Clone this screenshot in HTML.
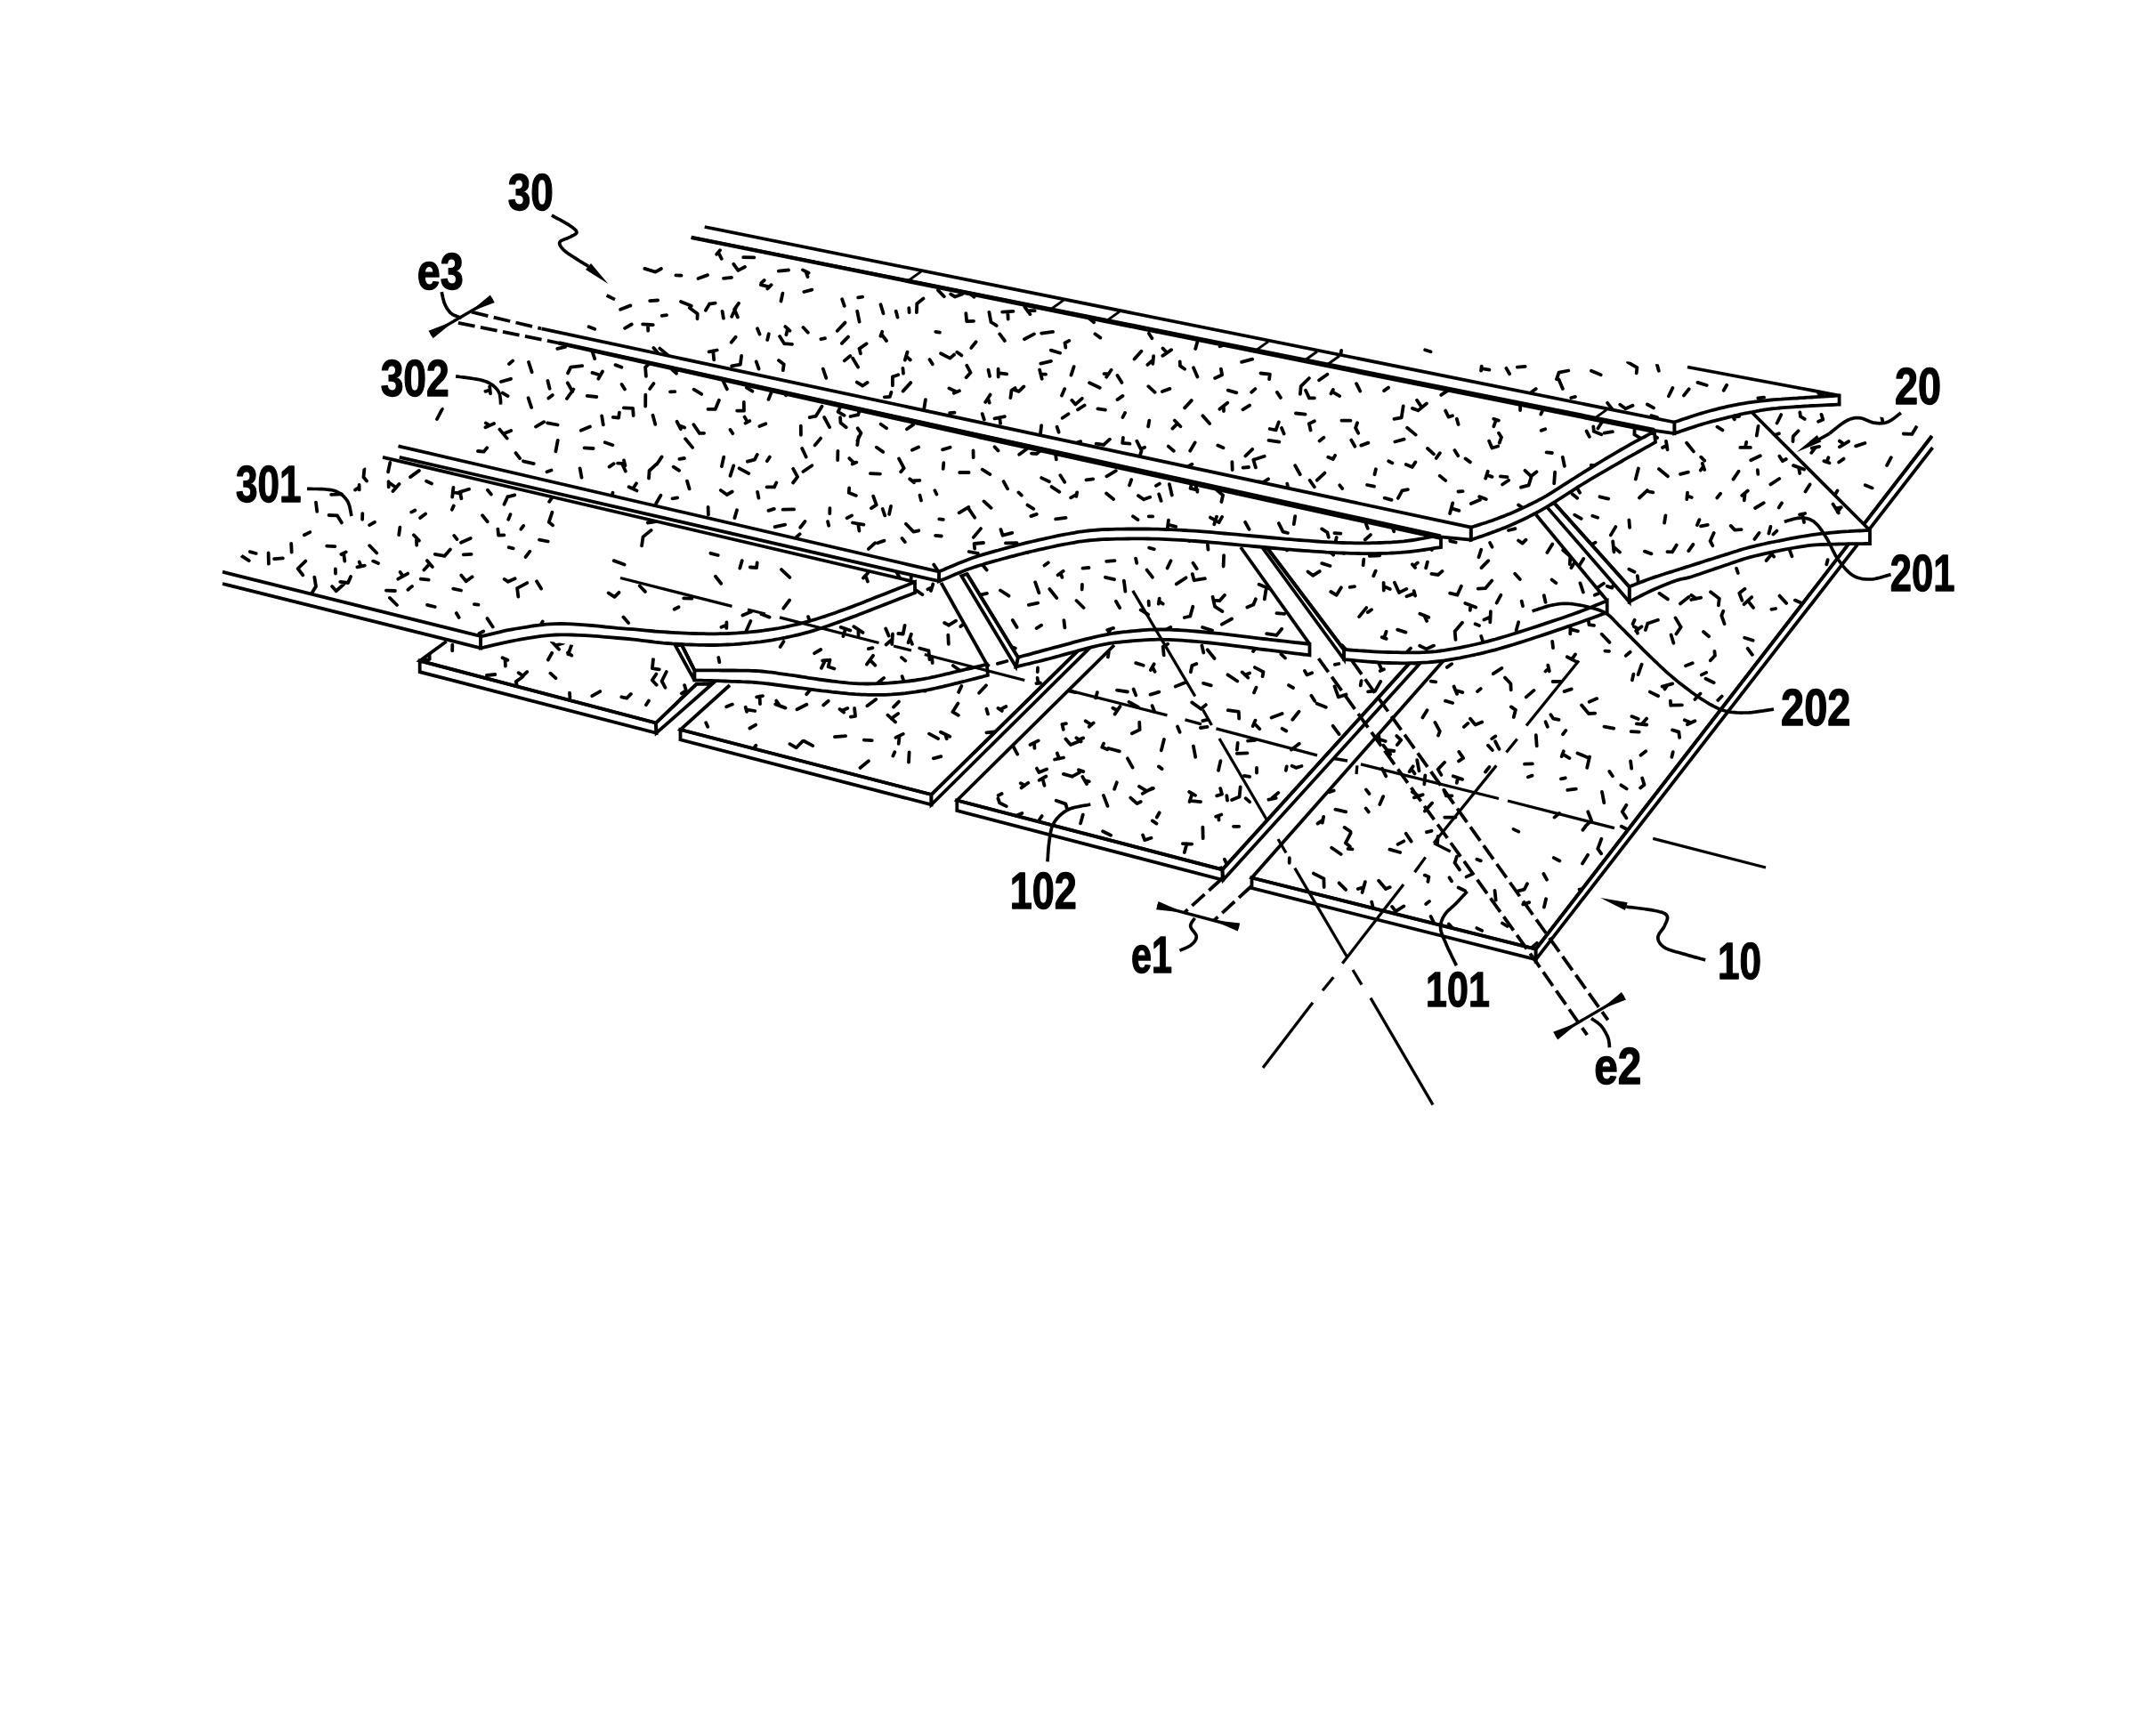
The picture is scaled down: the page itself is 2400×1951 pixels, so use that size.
<!DOCTYPE html>
<html><head><meta charset="utf-8"><title>Fig</title>
<style>
html,body{margin:0;padding:0;background:#fff;overflow:hidden;}
svg{display:block;}
text{font-family:"Liberation Sans",sans-serif;font-weight:bold;fill:#000;}
</style></head><body>
<svg width="2400" height="1951" viewBox="0 0 2400 1951">
<defs><clipPath id="c1"><path d="M1406.5 986.5 L1725.7 1066.7 L2170.7 490.0 L2150.0 476.0 L2060.0 458.0 L1969.0 462.0 L1640.0 722.0Z"/></clipPath><clipPath id="c2"><path d="M1075.3 899.5 L1373.5 977.3 L1584.0 745.0 L1600.0 727.0 L1270.0 707.0 L1252.0 725.0Z"/></clipPath><clipPath id="c3"><path d="M764.5 820.0 L1046.5 893.0 L1212.5 730.0 L1230.0 712.0 L840.0 752.0 L820.0 770.0Z"/></clipPath><clipPath id="c4"><path d="M471.7 742.7 L737.0 812.5 L782.5 768.8 L800.0 750.0 L520.0 705.0 L501.7 720.7Z"/></clipPath><clipPath id="c5"><path d="M766.2 725.2 L780.3 753.3 L782.4 753.3 L785.0 753.3 L788.1 753.3 L791.6 753.3 L795.3 753.4 L799.3 753.4 L803.3 753.4 L807.3 753.4 L811.3 753.5 L815.0 753.5 L818.6 753.5 L822.3 753.5 L826.0 753.5 L829.8 753.6 L833.5 753.6 L837.3 753.6 L841.1 753.7 L844.9 753.8 L848.6 754.0 L852.4 754.2 L856.1 754.5 L859.9 754.9 L863.6 755.3 L867.4 755.7 L871.1 756.2 L874.8 756.8 L878.6 757.3 L882.3 757.8 L886.1 758.4 L889.8 758.9 L893.5 759.4 L897.3 760.0 L901.0 760.6 L904.8 761.2 L908.5 761.8 L912.3 762.3 L916.1 762.9 L919.8 763.5 L923.6 764.0 L927.3 764.5 L931.0 765.0 L934.8 765.5 L938.5 765.9 L942.3 766.4 L946.0 766.8 L949.7 767.2 L953.5 767.6 L957.2 767.9 L961.0 768.1 L964.7 768.3 L968.4 768.4 L972.2 768.5 L975.9 768.5 L979.7 768.4 L983.5 768.3 L987.2 768.2 L991.0 768.0 L994.7 767.8 L998.5 767.6 L1002.2 767.3 L1005.9 767.0 L1009.7 766.7 L1013.4 766.3 L1017.2 765.9 L1020.9 765.5 L1024.6 765.0 L1028.4 764.5 L1032.1 763.9 L1035.9 763.3 L1039.6 762.7 L1043.4 762.0 L1047.2 761.2 L1051.0 760.4 L1054.8 759.5 L1058.6 758.6 L1062.4 757.7 L1066.2 756.8 L1069.9 755.9 L1073.5 755.0 L1077.0 754.2 L1080.6 753.4 L1084.2 752.5 L1088.0 751.6 L1091.7 750.8 L1095.3 749.9 L1098.7 749.1 L1101.8 748.4 L1104.6 747.7 L1107.0 747.1 L1108.9 746.7 L1057.5 655.0 L1040.0 630.0 L740.0 700.0Z"/></clipPath><clipPath id="c6"><path d="M1086.5 645.0 L1143.8 738.8 L1145.9 738.2 L1148.4 737.5 L1151.4 736.7 L1154.8 735.8 L1158.5 734.8 L1162.5 733.7 L1166.7 732.6 L1171.0 731.4 L1175.5 730.2 L1180.0 729.0 L1184.8 727.7 L1189.9 726.3 L1195.5 724.8 L1201.2 723.3 L1207.0 721.7 L1212.8 720.2 L1218.6 718.7 L1224.1 717.3 L1229.2 716.1 L1234.0 715.0 L1238.3 714.1 L1242.3 713.3 L1246.0 712.6 L1249.6 712.0 L1252.9 711.5 L1256.2 711.0 L1259.5 710.6 L1262.9 710.2 L1266.4 709.9 L1270.0 709.5 L1273.7 709.1 L1277.4 708.8 L1281.1 708.5 L1284.8 708.2 L1288.6 707.9 L1292.4 707.7 L1296.3 707.6 L1300.4 707.5 L1304.6 707.5 L1309.0 707.5 L1313.6 707.6 L1318.3 707.8 L1323.1 708.0 L1328.1 708.3 L1333.2 708.7 L1338.4 709.1 L1343.7 709.5 L1349.0 710.0 L1354.5 710.5 L1360.0 711.0 L1365.7 711.6 L1371.6 712.2 L1377.6 712.9 L1383.8 713.6 L1390.0 714.4 L1396.2 715.1 L1402.3 715.9 L1408.4 716.6 L1414.3 717.3 L1420.0 718.0 L1425.7 718.7 L1431.7 719.3 L1437.7 720.0 L1443.7 720.7 L1449.5 721.3 L1455.0 722.0 L1460.1 722.5 L1464.6 723.0 L1468.5 723.5 L1471.5 723.8 L1394.0 615.0 L1380.0 595.0 L1070.0 620.0Z"/></clipPath><clipPath id="c7"><path d="M1424.0 616.0 L1510.0 730.0 L1513.0 730.2 L1516.8 730.5 L1521.4 730.8 L1526.4 731.2 L1531.9 731.5 L1537.7 731.9 L1543.5 732.3 L1549.3 732.6 L1554.8 732.8 L1560.0 733.0 L1565.0 733.1 L1569.9 733.2 L1574.9 733.3 L1579.9 733.4 L1584.8 733.4 L1589.7 733.4 L1594.6 733.3 L1599.5 733.1 L1604.3 732.8 L1609.0 732.5 L1613.7 732.1 L1618.2 731.5 L1622.8 730.9 L1627.2 730.2 L1631.7 729.5 L1636.1 728.7 L1640.6 727.8 L1645.0 726.9 L1649.5 726.0 L1654.0 725.0 L1658.5 724.0 L1662.8 723.0 L1667.0 721.9 L1671.3 720.8 L1675.6 719.7 L1680.0 718.5 L1684.6 717.1 L1689.4 715.7 L1694.5 714.2 L1700.0 712.5 L1706.0 710.6 L1712.7 708.5 L1719.7 706.2 L1727.1 703.9 L1734.5 701.4 L1741.9 698.9 L1749.1 696.5 L1756.0 694.2 L1762.3 692.0 L1768.0 690.0 L1773.2 688.1 L1778.1 686.3 L1782.7 684.5 L1787.1 682.7 L1791.1 681.1 L1794.8 679.6 L1798.1 678.2 L1801.1 676.9 L1803.6 675.9 L1805.7 675.0 L1725.7 578.3 L1700.0 550.0 L1400.0 590.0Z"/></clipPath><clipPath id="c8"><path d="M1746.3 565.2 L1830.7 659.4 L1832.1 658.8 L1833.9 658.1 L1836.1 657.3 L1838.5 656.3 L1841.1 655.3 L1843.8 654.2 L1846.7 653.1 L1849.5 652.0 L1852.3 651.0 L1855.0 650.0 L1857.7 649.1 L1860.5 648.1 L1863.5 647.2 L1866.4 646.2 L1869.4 645.3 L1872.4 644.3 L1875.3 643.4 L1878.0 642.6 L1880.6 641.8 L1883.0 641.0 L1885.1 640.3 L1886.9 639.8 L1888.5 639.3 L1889.9 638.8 L1891.3 638.4 L1892.7 637.9 L1894.2 637.4 L1896.0 636.9 L1898.0 636.3 L1900.4 635.5 L1903.2 634.6 L1906.2 633.6 L1909.5 632.6 L1912.9 631.5 L1916.5 630.3 L1920.2 629.1 L1924.0 628.0 L1927.7 626.8 L1931.4 625.6 L1935.0 624.5 L1938.5 623.4 L1941.8 622.4 L1945.1 621.3 L1948.3 620.2 L1951.7 619.2 L1955.1 618.1 L1958.7 617.0 L1962.5 616.0 L1966.6 614.9 L1971.0 613.8 L1975.9 612.7 L1981.2 611.5 L1986.9 610.2 L1992.8 609.0 L1998.9 607.8 L2004.9 606.6 L2010.9 605.4 L2016.6 604.3 L2022.0 603.4 L2027.0 602.5 L2031.5 601.8 L2035.8 601.1 L2039.8 600.6 L2043.6 600.1 L2047.2 599.7 L2050.8 599.3 L2054.3 599.0 L2057.8 598.6 L2061.4 598.3 L2065.0 598.0 L2068.8 597.7 L2072.9 597.4 L2077.1 597.2 L2081.3 596.9 L2085.4 596.7 L2089.3 596.5 L2092.9 596.4 L2096.1 596.2 L2098.9 596.1 L2101.0 596.0 L1969.0 464.0 L1850.0 480.0Z"/></clipPath><clipPath id="c9"><path d="M250.0 642.7 L540.0 715.5 L542.3 714.9 L545.3 714.2 L548.7 713.4 L552.6 712.4 L556.9 711.3 L561.4 710.3 L566.0 709.2 L570.7 708.2 L575.4 707.3 L580.0 706.5 L584.5 705.8 L589.0 705.0 L593.6 704.3 L598.3 703.5 L603.1 702.9 L608.1 702.3 L613.2 701.7 L618.6 701.4 L624.1 701.1 L630.0 701.0 L636.3 701.1 L643.0 701.4 L650.2 701.8 L657.5 702.4 L665.0 703.0 L672.5 703.7 L679.8 704.5 L687.0 705.1 L693.7 705.8 L700.0 706.3 L705.8 706.8 L711.3 707.2 L716.5 707.7 L721.4 708.2 L726.2 708.6 L731.0 709.0 L735.6 709.5 L740.3 709.8 L745.1 710.2 L750.0 710.5 L755.0 710.8 L760.2 711.1 L765.3 711.3 L770.5 711.6 L775.6 711.8 L780.7 712.0 L785.7 712.1 L790.6 712.2 L795.4 712.3 L800.0 712.3 L804.4 712.3 L808.7 712.2 L812.9 712.1 L817.0 712.0 L820.9 711.8 L824.8 711.6 L828.7 711.4 L832.5 711.1 L836.2 710.8 L840.0 710.5 L843.7 710.2 L847.3 709.8 L850.8 709.5 L854.3 709.1 L857.7 708.7 L861.1 708.2 L864.5 707.7 L868.0 707.2 L871.4 706.6 L875.0 706.0 L878.6 705.3 L882.3 704.6 L885.9 703.8 L889.6 703.0 L893.3 702.2 L897.0 701.3 L900.8 700.3 L904.5 699.4 L908.3 698.4 L912.0 697.3 L915.8 696.2 L919.5 695.0 L923.3 693.8 L927.0 692.6 L930.8 691.3 L934.6 690.0 L938.4 688.7 L942.3 687.3 L946.1 685.9 L950.0 684.5 L953.9 683.1 L957.9 681.6 L961.9 680.0 L966.0 678.5 L970.0 676.9 L974.0 675.3 L978.1 673.7 L982.1 672.1 L986.1 670.5 L990.0 669.0 L994.1 667.4 L998.3 665.7 L1002.7 664.0 L1007.2 662.2 L1011.5 660.5 L1015.6 658.9 L1019.5 657.4 L1022.9 656.0 L1025.7 654.9 L1028.0 654.0 L430.0 513.8 L392.0 536.0 L350.0 562.0 L292.0 603.0 L256.0 640.0Z"/></clipPath><clipPath id="c10"><path d="M447.5 501.3 L1055.0 642.5 L1057.1 641.6 L1059.8 640.5 L1062.9 639.1 L1066.5 637.6 L1070.3 635.9 L1074.3 634.2 L1078.4 632.5 L1082.4 630.9 L1086.3 629.4 L1090.0 628.0 L1093.5 626.8 L1097.0 625.6 L1100.5 624.5 L1104.0 623.4 L1107.5 622.4 L1111.0 621.4 L1114.5 620.4 L1118.0 619.4 L1121.5 618.5 L1125.0 617.5 L1128.5 616.5 L1131.9 615.6 L1135.3 614.7 L1138.8 613.8 L1142.2 612.9 L1145.6 612.0 L1149.1 611.1 L1152.7 610.2 L1156.3 609.4 L1160.0 608.5 L1163.8 607.6 L1167.8 606.7 L1171.8 605.8 L1175.9 604.9 L1180.1 604.0 L1184.2 603.1 L1188.3 602.2 L1192.3 601.4 L1196.2 600.7 L1200.0 600.0 L1203.5 599.4 L1206.8 598.8 L1209.9 598.2 L1213.0 597.7 L1216.0 597.3 L1219.1 596.9 L1222.4 596.5 L1225.9 596.1 L1229.7 595.8 L1234.0 595.5 L1238.7 595.2 L1243.9 595.0 L1249.3 594.8 L1255.0 594.7 L1260.9 594.6 L1266.8 594.5 L1272.8 594.5 L1278.7 594.4 L1284.5 594.5 L1290.0 594.5 L1295.3 594.6 L1300.4 594.7 L1305.4 594.8 L1310.4 595.0 L1315.3 595.2 L1320.3 595.4 L1325.4 595.7 L1330.7 596.0 L1336.2 596.3 L1342.0 596.7 L1348.2 597.1 L1354.7 597.7 L1361.5 598.2 L1368.5 598.8 L1375.6 599.5 L1382.6 600.1 L1389.6 600.7 L1396.4 601.4 L1402.9 602.0 L1409.0 602.5 L1414.8 603.0 L1420.3 603.5 L1425.5 604.0 L1430.6 604.5 L1435.6 604.9 L1440.5 605.4 L1445.4 605.8 L1450.2 606.2 L1455.1 606.6 L1460.0 607.0 L1465.0 607.4 L1470.1 607.7 L1475.1 608.1 L1480.1 608.5 L1485.1 608.8 L1490.1 609.1 L1495.0 609.4 L1499.7 609.6 L1504.4 609.8 L1509.0 610.0 L1513.5 610.1 L1517.8 610.2 L1522.1 610.3 L1526.3 610.3 L1530.4 610.3 L1534.5 610.3 L1538.5 610.3 L1542.4 610.2 L1546.2 610.1 L1550.0 610.0 L1553.7 609.9 L1557.2 609.7 L1560.7 609.6 L1564.1 609.4 L1567.4 609.1 L1570.7 608.9 L1573.9 608.6 L1577.2 608.3 L1580.6 607.9 L1584.0 607.5 L1587.6 607.0 L1591.5 606.4 L1595.5 605.7 L1599.6 605.0 L1603.6 604.2 L1607.5 603.5 L1611.0 602.8 L1614.2 602.2 L1616.9 601.7 L1619.0 601.3 L1618.7 603.3 L635.0 385.5 L575.0 400.0 L540.0 420.0 L500.0 455.0Z"/></clipPath><clipPath id="c11"><path d="M523.0 351.7 L1652.7 592.6 L1654.0 592.2 L1655.7 591.7 L1657.7 591.1 L1660.0 590.4 L1662.4 589.6 L1664.9 588.8 L1667.5 588.0 L1670.1 587.2 L1672.6 586.3 L1675.0 585.5 L1677.3 584.7 L1679.7 583.8 L1682.0 582.9 L1684.4 582.0 L1686.8 581.1 L1689.2 580.2 L1691.6 579.3 L1693.9 578.3 L1696.2 577.4 L1698.5 576.4 L1700.7 575.4 L1702.9 574.5 L1705.1 573.5 L1707.3 572.6 L1709.4 571.6 L1711.6 570.6 L1713.7 569.6 L1715.8 568.6 L1717.9 567.5 L1720.0 566.5 L1722.0 565.5 L1723.8 564.6 L1725.6 563.7 L1727.3 562.9 L1729.0 561.9 L1730.8 561.0 L1732.9 559.8 L1735.1 558.6 L1737.7 557.1 L1740.6 555.3 L1743.9 553.3 L1747.7 550.9 L1751.7 548.4 L1755.9 545.7 L1760.3 542.8 L1764.9 539.9 L1769.5 537.0 L1774.0 534.1 L1778.5 531.3 L1782.8 528.6 L1787.1 526.0 L1791.4 523.3 L1795.7 520.7 L1800.1 518.0 L1804.4 515.4 L1808.7 512.8 L1813.0 510.3 L1817.1 507.9 L1821.1 505.5 L1825.0 503.3 L1828.9 501.1 L1832.8 498.9 L1836.8 496.7 L1840.7 494.6 L1844.5 492.6 L1848.1 490.7 L1851.4 488.9 L1854.3 487.4 L1856.8 486.1 L1858.8 485.0 L776.7 266.7 L720.0 290.0 L680.0 340.0 L640.0 375.0Z"/></clipPath><clipPath id="c12"><path d="M1485.0 394.5 L1881.3 474.5 L1883.3 473.8 L1885.8 473.0 L1888.8 471.9 L1892.2 470.8 L1895.8 469.6 L1899.7 468.3 L1903.6 467.0 L1907.5 465.7 L1911.3 464.6 L1915.0 463.5 L1918.6 462.5 L1922.2 461.5 L1925.8 460.6 L1929.5 459.6 L1933.2 458.7 L1937.0 457.8 L1940.7 456.9 L1944.5 456.1 L1948.2 455.3 L1952.0 454.6 L1955.8 453.9 L1959.6 453.3 L1963.4 452.7 L1967.2 452.2 L1971.0 451.7 L1974.8 451.2 L1978.6 450.7 L1982.4 450.3 L1986.2 449.9 L1990.0 449.5 L1993.7 449.1 L1997.4 448.8 L2001.1 448.6 L2004.7 448.3 L2008.4 448.1 L2012.1 447.9 L2015.7 447.7 L2019.4 447.5 L2023.2 447.2 L2027.0 447.0 L2031.0 446.7 L2035.4 446.5 L2039.9 446.2 L2044.6 445.9 L2049.1 445.6 L2053.5 445.3 L2057.5 445.1 L2061.2 444.8 L2064.2 444.6 L2066.6 444.5 L1896.0 412.5 L1850.0 408.0 L1762.0 401.0 L1700.0 398.0 L1620.0 393.0 L1560.0 385.0 L1500.0 384.0Z"/></clipPath></defs>
<rect width="2400" height="1951" fill="#fff"/>
<path d="M1406.5 986.5 L1725.7 1066.7 L2170.7 490.0 L2150.0 476.0 L2060.0 458.0 L1969.0 462.0 L1640.0 722.0Z" fill="#fff" stroke="none"/>
<path d="M1406.5 986.5 L1725.7 1066.7 L1725.7 1078.3 L1406.5 998.1Z" fill="#fff" stroke="#000" stroke-width="3.8" stroke-linejoin="miter"/>
<path d="M2170.7 490.0 L1725.7 1066.7 L1725.7 1078.3 L2171.5 503.0Z" fill="#fff" stroke="none"/>
<path d="M2170.7 490.0 L1725.7 1066.7 L1725.7 1078.3 L2171.5 503.0" fill="none" stroke="#000" stroke-width="3.8" stroke-linejoin="miter"/>
<path clip-path="url(#c1)" d="M1969.5 461.8l1.3 9.3M2001.3 466.1l-4.7 9.4M2022.4 463.4l0.6 4.7M2023.0 468.0l4.7 2.9M2046.5 465.9l1.8 5.6M2048.3 471.6l-5.2 2.2M2114.2 468.9l1.1 4.4M2153.4 479.6l-5.1 8.3M2148.2 487.9l-9.5 -0.4M1917.0 502.1l4.5 8.5M1938.8 491.8l0.5 5.3M1956.7 506.2l5.8 10.8M1998.9 487.2l-5.8 2.1M2020.6 484.3l-5.8 6.1M2014.7 490.4l-0.2 5.8M2044.2 501.9l-8.4 1.7M2040.1 502.7l-4.8 6.1M2077.1 496.1l-10.2 6.2M2072.0 499.2l-5.1 -3.6M2095.4 498.0l-10.2 3.4M1896.8 527.4l3.5 7.3M1900.3 534.7l-4.6 5.0M1922.5 520.8l-5.0 0.2M1969.1 510.7l7.3 8.4M1976.4 519.0l-2.4 6.7M1982.7 522.3l9.5 6.2M2004.1 509.3l7.4 6.2M2011.5 515.6l5.3 -1.7M2049.4 518.1l6.1 2.2M2052.5 519.2l1.9 -4.9M2071.6 515.6l-5.5 3.9M2124.8 514.2l-4.7 8.8M1855.9 556.4l-2.5 6.4M1854.6 559.6l-9.0 -1.5M1936.7 555.2l2.4 5.1M1937.9 557.7l9.1 -1.2M1964.9 546.8l-0.1 10.9M1989.6 538.9l3.4 3.8M2005.8 555.1l0.5 7.7M2046.2 553.6l4.0 4.1M2064.5 551.4l-3.5 5.8M2095.8 545.3l7.9 3.1M1853.3 590.5l-9.5 2.6M1883.3 582.5l-5.9 5.8M1898.2 563.6l4.0 7.5M1902.2 571.1l-4.7 7.3M1932.6 581.5l-0.0 5.1M1962.0 574.2l-1.2 8.0M1960.8 582.3l4.4 3.9M2010.8 580.7l0.1 10.9M2031.6 582.9l11.2 3.4M2070.6 582.9l-11.4 1.1M2059.2 584.0l-0.7 -7.1M2082.8 586.9l1.4 8.4M1813.0 603.3l0.7 6.1M1813.7 609.4l9.4 -0.9M1837.9 596.2l11.3 5.6M1870.4 616.9l1.6 4.7M1929.6 595.9l-2.4 4.1M1955.0 598.9l3.1 6.1M1981.7 616.0l-9.7 6.1M2036.0 600.6l-6.6 4.5M1779.2 627.9l-5.1 8.3M1817.2 633.1l4.4 4.3M1821.6 637.5l5.6 -1.2M1870.3 633.6l-10.0 0.3M1865.3 633.7l-0.6 7.3M1868.2 621.8l-3.3 12.3M1908.0 642.4l-10.9 1.9M1897.1 644.3l-6.0 -5.3M1919.3 622.5l8.1 6.0M1927.3 628.5l0.4 6.6M1951.1 638.9l1.7 5.1M1988.2 619.4l5.0 6.2M1990.8 622.5l-6.2 7.5M2010.0 615.8l3.4 9.4M2053.6 629.2l-1.3 5.1M1752.3 664.9l2.3 6.2M1801.9 655.8l-9.6 6.5M1815.4 652.8l-4.2 7.7M1811.2 660.6l-5.4 -1.8M1864.5 666.9l9.4 6.5M1911.2 671.6l-10.9 2.4M1905.8 672.8l-5.5 -4.0M1922.0 665.3l9.8 7.5M1931.8 672.8l-0.9 7.5M1960.5 661.8l-6.1 4.7M1954.3 666.5l3.1 8.3M1999.5 669.6l7.6 8.3M1722.0 676.4l2.6 8.6M1724.6 685.0l4.5 2.8M1757.8 673.9l-3.8 8.0M1766.9 678.6l-9.4 7.6M1783.9 691.5l1.6 10.7M1785.5 702.1l5.5 0.8M1836.6 696.7l-2.0 4.5M1862.9 696.7l-11.7 4.0M1851.2 700.8l-2.3 7.2M1882.5 694.4l6.1 10.3M1888.7 704.6l-5.3 7.9M1897.4 671.0l-9.5 7.4M1936.3 686.7l-2.0 5.1M1934.3 691.8l3.3 9.3M1968.2 671.1l-8.6 8.0M1963.9 675.2l6.1 7.7M1995.1 684.0l-4.7 0.8M2016.9 674.6l7.8 3.5M1668.8 711.9l2.8 4.6M1670.2 714.2l9.6 -0.5M1689.5 709.0l-5.9 0.3M1724.2 703.9l9.6 1.0M1744.2 720.8l0.8 7.2M1764.6 702.0l-0.3 10.4M1764.4 707.2l8.5 2.1M1799.7 712.7l8.7 9.2M1835.8 704.1l5.2 2.6M1838.4 705.4l1.5 6.3M1844.5 704.2l-6.3 4.8M1877.6 713.5l2.8 9.2M1914.0 710.0l6.1 5.3M1960.2 716.8l9.4 3.0M1631.1 746.2l-5.2 3.7M1654.7 726.6l1.0 9.8M1687.4 750.9l-9.6 6.3M1739.3 747.7l1.5 6.5M1740.1 751.0l-3.6 3.5M1760.8 738.3l10.8 5.6M1766.1 741.1l3.9 -5.7M1803.4 731.7l4.6 0.2M1831.7 732.7l-4.9 4.2M1844.6 746.7l-4.0 11.4M1901.7 745.2l-7.7 3.0M1926.4 731.8l0.5 5.0M1926.9 736.8l-5.1 5.5M1963.7 728.8l5.2 7.0M1607.8 765.6l5.4 0.8M1633.6 771.5l3.5 8.4M1635.3 775.7l8.0 2.4M1663.7 774.0l-3.7 3.1M1691.0 761.6l6.4 6.7M1697.4 768.3l0.3 7.1M1723.5 775.9l-8.7 7.5M1754.1 765.8l-9.5 0.2M1765.7 774.4l-8.1 2.7M1835.4 757.6l-1.5 6.7M1853.9 777.6l9.3 4.6M1879.2 768.4l-11.6 3.2M1873.4 770.1l-2.9 4.3M1917.2 755.9l-5.4 2.5M1916.5 762.7l9.2 4.5M1603.5 798.2l-5.1 8.2M1624.0 787.7l8.1 2.3M1697.9 794.4l5.0 3.5M1702.9 797.8l-2.1 8.2M1742.4 803.2l2.8 4.3M1745.2 807.6l6.3 1.3M1777.1 792.5l7.9 9.5M1785.0 802.0l7.2 -0.4M1794.2 785.1l-8.5 3.7M1833.4 805.1l7.3 2.9M1889.9 792.4l-12.7 0.3M1877.2 792.8l-0.3 -5.2M1910.5 779.5l-6.1 6.5M1934.7 782.5l-4.4 4.4M1549.3 826.5l0.5 8.4M1549.5 830.7l7.2 2.3M1569.3 827.1l4.9 4.6M1574.2 831.7l-4.4 5.4M1612.4 811.9l5.4 10.0M1617.8 821.9l-1.8 4.7M1649.4 812.9l-4.5 4.0M1652.0 807.8l5.7 6.6M1657.7 814.4l7.5 -2.9M1680.3 827.4l-4.1 2.8M1725.8 826.2l0.9 12.2M1736.5 811.3l2.3 5.4M1759.4 820.9l-3.4 4.3M1802.5 816.6l10.7 2.1M1832.7 822.1l9.0 0.6M1838.8 813.4l11.4 1.1M1844.5 813.9l5.7 -6.3M1879.1 820.4l7.2 2.2M1886.3 822.6l0.8 6.3M1904.4 810.3l-8.6 4.0M1900.0 812.3l-7.2 -3.1M1554.4 837.8l7.8 9.9M1558.3 842.8l8.1 1.2M1592.2 854.2l2.3 12.2M1623.1 856.8l-7.4 7.8M1615.7 864.6l3.7 6.3M1639.3 844.9l4.8 7.0M1644.1 852.0l-5.1 3.4M1672.0 837.7l4.8 5.4M1680.1 833.3l4.4 8.6M1721.9 858.4l-8.9 0.3M1756.8 844.3l-2.1 5.8M1755.7 847.3l7.8 4.8M1772.4 846.4l11.3 4.8M1786.0 850.5l-2.8 12.4M1832.1 855.4l1.1 8.3M1849.2 844.3l-5.7 4.5M1879.7 845.2l-1.3 5.6M1498.7 888.5l-5.1 1.8M1534.9 887.4l3.6 4.6M1553.0 863.8l4.3 8.6M1587.7 861.2l-4.0 5.9M1585.7 864.1l3.8 5.3M1601.3 871.5l-1.0 9.9M1632.8 872.3l10.3 3.6M1638.0 874.1l-1.2 5.7M1673.5 861.9l-4.5 5.6M1721.6 871.6l-4.7 1.7M1758.8 874.3l-4.8 1.1M1770.8 886.7l-9.5 1.2M1808.3 866.9l3.6 5.3M1821.4 882.3l6.3 4.2M1845.2 874.5l2.3 7.4M1847.5 881.9l-4.4 3.5M1500.4 909.7l11.8 2.6M1534.6 908.4l3.2 4.1M1554.2 895.1l-3.9 9.0M1598.7 893.1l-9.8 3.3M1593.8 894.8l-7.0 -4.8M1609.1 902.4l-8.2 9.1M1622.3 887.8l2.6 6.6M1624.9 894.4l6.6 -0.1M1752.0 914.0l-5.5 4.6M1800.0 889.8l2.3 12.4M1827.4 904.8l-4.6 7.5M1822.8 912.3l4.6 7.0M1487.1 917.9l-1.3 6.8M1486.5 921.4l-6.0 4.2M1510.6 929.9l6.8 4.6M1517.6 936.3l-5.7 11.0M1511.9 947.4l4.9 3.9M1579.7 936.8l6.0 8.8M1608.5 933.8l-5.5 1.4M1635.5 918.6l-12.3 0.0M1700.5 931.9l5.8 2.7M1781.5 928.8l-3.1 3.9M1784.2 912.3l4.0 9.9M1788.2 922.2l-6.7 6.1M1821.8 928.7l8.7 4.6M1448.8 964.2l-0.1 5.6M1496.2 952.8l10.5 7.2M1514.6 953.8l4.9 0.6M1561.4 954.7l11.8 3.3M1577.3 945.3l-6.7 3.6M1615.7 939.9l-0.7 8.8M1636.9 962.6l-2.3 6.9M1634.5 969.5l5.4 7.9M1659.4 965.8l4.4 1.6M1745.8 964.1l6.6 3.4M1784.1 960.8l-6.1 9.7M1799.4 942.7l-4.1 11.2M1795.3 953.9l3.9 5.4M1475.9 981.6l11.5 5.9M1487.4 987.6l0.3 9.4M1504.6 992.3l7.5 7.6M1533.9 991.1l-3.3 11.9M1532.3 997.1l-6.5 1.9M1549.1 989.8l7.9 9.3M1557.0 999.1l4.7 -2.0M1600.8 983.6l4.6 2.0M1605.4 985.5l-1.0 5.3M1628.5 986.3l2.5 4.0M1653.0 982.9l-5.4 2.5M1716.0 993.2l-3.3 6.4M1712.6 999.6l-6.9 1.7M1734.4 982.0l3.6 6.7M1541.2 1013.6l1.7 7.1M1542.9 1020.7l-5.8 7.4M1577.4 1018.4l-9.2 5.8M1568.1 1024.2l-4.0 -5.3M1606.0 1012.9l-3.8 3.1M1638.6 997.5l7.4 3.5M1679.5 1000.8l1.2 10.8M1718.2 1014.1l-7.0 2.4M1737.1 1010.3l-2.2 9.3M1779.9 998.9l-5.4 0.7M1607.6 1029.9l5.2 10.7M1610.2 1035.3l-7.1 6.9M1627.9 1038.4l6.5 7.2M1659.4 1043.1l5.8 2.8M1688.0 1037.5l5.6 3.4M1726.9 1059.8l-6.9 6.1" fill="none" stroke="#000" stroke-width="3.8" stroke-linecap="round"/>
<path d="M1640.0 722.0 L1406.5 986.5 L1725.7 1066.7 L2170.7 490.0" fill="none" stroke="#000" stroke-width="3.8" stroke-linejoin="miter" stroke-linecap="butt"/>
<path d="M1075.3 899.5 L1373.5 977.3 L1584.0 745.0 L1600.0 727.0 L1270.0 707.0 L1252.0 725.0Z" fill="#fff" stroke="none"/>
<path d="M1075.3 899.5 L1373.5 977.3 L1373.5 988.8 L1075.3 911.0Z" fill="#fff" stroke="#000" stroke-width="3.8" stroke-linejoin="miter"/>
<path d="M1373.5 977.3 L1584.0 745.0 L1595.0 746.0 L1374.5 988.8Z" fill="#fff" stroke="#000" stroke-width="3.8" stroke-linejoin="miter"/>
<path clip-path="url(#c2)" d="M1284.2 709.1l-7.5 5.4M1312.2 723.7l-5.5 3.1M1306.7 726.8l1.0 9.5M1350.4 725.5l1.9 8.0M1414.8 723.0l-6.8 9.0M1462.3 732.3l-6.4 0.5M1455.9 732.8l-3.9 -4.2M1513.6 723.2l10.7 4.3M1559.6 729.3l3.2 6.2M1578.6 730.3l-7.8 3.6M1245.8 733.3l-0.9 5.2M1276.2 745.1l8.5 2.7M1296.7 746.3l-3.8 6.7M1294.9 749.6l2.7 5.2M1344.3 746.0l-4.9 2.0M1339.4 747.9l-1.5 7.3M1356.7 730.2l7.9 9.8M1395.7 755.4l6.6 6.2M1399.0 758.5l5.1 -2.1M1409.9 750.1l9.6 5.0M1419.5 755.1l-0.9 5.1M1439.4 735.1l4.6 4.4M1465.9 753.9l2.5 4.5M1468.4 758.4l5.7 -2.2M1504.4 746.0l-4.5 0.9M1521.2 731.8l-5.7 9.1M1518.3 736.4l2.1 6.4M1554.9 752.3l-4.2 1.7M1552.8 753.1l-3.2 -6.9M1583.1 735.7l-9.2 7.3M1578.5 739.4l-7.3 -4.5M1198.7 776.0l9.7 2.1M1232.9 778.1l-1.8 6.3M1255.0 775.6l11.9 1.9M1273.6 774.5l2.7 6.9M1302.3 777.6l-9.7 3.0M1332.4 766.8l-11.7 4.7M1352.0 767.9l8.8 2.4M1379.5 758.3l10.8 7.2M1411.5 772.6l-2.5 5.8M1448.0 770.1l5.0 2.9M1473.4 781.8l3.8 6.0M1499.5 771.4l4.3 12.0M1503.8 783.4l8.8 -2.9M1529.6 765.1l-0.9 5.3M1551.2 765.9l-6.0 10.5M1545.2 776.4l-8.1 0.9M1197.9 813.2l-4.5 0.9M1193.5 814.1l1.3 5.8M1228.7 812.4l-5.0 4.3M1226.2 814.5l-6.5 -4.2M1258.5 793.9l-5.9 8.7M1255.6 798.3l-5.2 -2.6M1268.5 788.9l10.4 5.8M1294.6 793.1l2.5 6.6M1339.2 789.4l10.2 7.3M1349.4 796.7l5.5 -4.6M1356.6 808.8l-5.3 1.3M1379.8 798.2l12.0 1.7M1391.8 799.9l0.4 7.7M1410.5 809.6l-2.8 6.4M1409.1 812.8l6.2 6.4M1440.6 802.0l-12.0 4.5M1459.5 799.7l-7.2 9.1M1479.7 790.8l10.1 3.9M1166.7 832.4l-9.2 4.6M1162.1 834.7l0.3 6.1M1212.2 833.2l-9.3 3.7M1202.9 836.9l-5.5 -6.5M1209.4 829.2l5.3 4.2M1212.1 831.3l5.1 -1.9M1240.1 835.6l-1.8 4.2M1238.4 839.7l5.9 2.5M1280.2 811.6l0.4 8.5M1280.6 820.1l-8.7 4.2M1307.9 831.0l-3.1 12.4M1323.0 816.5l2.6 6.3M1356.6 816.9l-7.7 1.1M1390.7 835.0l-0.8 7.6M1410.2 831.9l-8.1 0.8M1440.6 818.8l4.7 2.7M1459.8 835.8l-8.8 6.8M1497.7 815.8l6.9 9.3M1138.0 837.9l5.2 9.7M1164.9 863.6l2.5 4.5M1167.4 868.1l8.7 -3.7M1195.0 851.5l-9.9 2.0M1190.1 852.5l-2.3 -6.0M1212.0 865.2l5.3 1.9M1245.5 841.0l12.3 3.4M1266.9 852.3l5.7 10.3M1301.9 861.4l3.7 2.7M1340.9 838.5l2.3 12.3M1371.4 855.2l-2.4 10.7M1401.5 846.4l-11.8 0.4M1412.0 863.0l0.0 5.5M1445.7 861.4l-0.9 4.4M1462.5 861.0l-6.3 1.9M1456.2 862.9l-4.5 -2.2M1125.6 892.0l-4.0 2.0M1155.3 879.8l-7.7 5.6M1151.5 882.6l-4.7 -2.4M1175.3 872.5l-7.7 4.3M1171.4 874.6l2.1 8.3M1194.9 869.9l9.9 2.8M1204.8 872.7l8.2 -4.5M1216.3 872.9l4.7 8.2M1218.6 877.0l5.2 1.3M1254.8 879.3l-2.7 7.5M1294.4 885.8l-10.7 6.0M1295.9 885.9l-7.6 3.0M1288.3 888.9l-8.3 -5.1M1336.2 890.0l6.8 3.8M1339.6 891.8l-3.1 9.2M1371.2 886.1l1.8 6.4M1373.0 892.5l-5.8 1.9M1393.7 884.3l-1.1 11.2M1392.5 895.5l-8.4 3.5M1397.9 871.8l6.2 1.1M1436.3 890.9l-6.8 5.8M1121.4 897.4l1.7 4.8M1123.1 902.2l7.7 3.9M1148.4 913.9l-8.2 3.3M1170.7 917.1l-4.6 6.4M1166.2 923.5l7.5 6.5M1186.7 899.7l10.5 3.7M1197.3 903.4l1.9 6.5M1216.8 915.6l-2.7 9.7M1239.9 893.9l4.6 12.0M1281.7 901.0l-4.1 2.1M1277.6 903.1l-7.3 -6.5M1302.7 913.3l-2.9 5.2M1336.7 899.9l12.4 1.2M1372.3 915.5l-6.2 2.2M1369.2 916.6l0.3 5.0M1378.3 894.1l0.7 5.4M1399.6 897.2l4.5 4.0M1433.7 897.0l-8.3 1.7M1239.1 934.3l9.0 4.4M1293.5 941.8l-7.3 2.3M1286.2 944.1l-2.2 -5.7M1294.8 922.4l4.7 3.2M1328.9 948.2l10.3 0.4M1351.4 929.6l0.3 12.6M1392.2 928.8l-6.2 0.0M1333.5 948.3l-2.7 9.7M1372.0 975.2l-4.9 1.6M1375.9 965.7l2.7 5.9" fill="none" stroke="#000" stroke-width="3.8" stroke-linecap="round"/>
<path d="M1252.0 725.0 L1075.3 899.5 L1373.5 977.3 L1584.0 745.0" fill="none" stroke="#000" stroke-width="3.8" stroke-linejoin="miter" stroke-linecap="butt"/>
<path d="M764.5 820.0 L1046.5 893.0 L1212.5 730.0 L1230.0 712.0 L840.0 752.0 L820.0 770.0Z" fill="#fff" stroke="none"/>
<path d="M764.5 820.0 L1046.5 893.0 L1046.5 904.3 L764.5 831.3Z" fill="#fff" stroke="#000" stroke-width="3.8" stroke-linejoin="miter"/>
<path d="M1046.5 893.0 L1212.5 730.0 L1225.0 727.5 L1046.5 904.3Z" fill="#fff" stroke="#000" stroke-width="3.8" stroke-linejoin="miter"/>
<path clip-path="url(#c3)" d="M1050.5 732.8l6.2 1.9M1152.8 728.2l8.2 6.8M1156.9 731.6l-3.0 7.6M1172.1 718.8l5.9 3.2M1178.0 722.0l0.2 8.9M1202.9 729.9l3.7 6.0M1206.6 735.9l5.9 -0.6M884.7 754.5l1.3 7.6M926.5 751.9l-3.5 7.6M924.7 755.7l1.7 4.9M973.0 745.9l-3.3 4.7M1028.6 751.4l-6.0 3.9M1048.9 741.0l-6.9 9.0M1088.2 750.9l-5.2 0.9M1110.5 747.7l-5.0 3.4M1131.4 743.0l-10.5 2.9M1166.0 750.5l-0.2 4.7M822.9 791.6l-6.7 2.6M857.0 782.1l-6.8 1.2M853.6 782.7l0.4 8.4M872.3 787.6l3.3 4.7M910.3 775.2l-4.1 5.1M930.7 787.8l-5.5 4.7M984.2 785.9l-9.8 7.4M1009.9 788.6l-5.9 6.0M1029.8 774.8l-5.2 1.9M1030.9 775.3l8.6 1.4M1080.4 770.9l-3.3 7.0M1108.0 770.3l-7.9 8.5M1169.0 767.5l-4.6 0.6M1166.7 767.8l-1.1 -5.9M793.2 812.2l2.0 4.6M837.7 794.8l1.3 5.0M838.4 797.3l9.8 1.7M849.1 814.6l-6.7 3.9M871.3 791.4l11.2 4.2M906.4 791.8l-10.9 5.5M943.5 797.0l4.6 3.6M945.7 798.8l6.6 -2.9M960.1 796.0l0.9 8.8M960.9 804.9l-5.0 0.8M997.4 803.7l8.6 7.7M1001.6 807.5l7.5 -5.6M1076.4 790.5l-6.0 9.6M1070.5 800.1l6.3 3.7M1108.4 796.8l1.6 5.6M1121.5 795.9l4.3 3.0M1123.7 797.4l6.7 -3.4M849.4 837.7l-5.5 6.9M901.7 833.1l-7.0 7.2M894.7 840.3l-7.3 -4.1M903.3 832.8l10.0 5.3M950.1 827.2l-12.2 0.9M970.8 831.6l8.9 0.6M1014.8 824.9l-8.4 4.0M1010.6 826.9l-0.9 9.0M1044.0 824.7l10.1 5.5M1057.0 822.7l10.2 5.1M1062.1 825.2l1.6 5.1M1117.6 822.5l-9.2 0.8M975.9 855.2l-9.5 7.7M1005.3 845.2l-1.9 4.3M1021.6 845.4l-0.6 11.2M1057.3 850.2l-8.5 2.1" fill="none" stroke="#000" stroke-width="3.8" stroke-linecap="round"/>
<path d="M820.0 770.0 L764.5 820.0 L1046.5 893.0 L1212.5 730.0" fill="none" stroke="#000" stroke-width="3.8" stroke-linejoin="miter" stroke-linecap="butt"/>
<path d="M471.7 742.7 L737.0 812.5 L782.5 768.8 L800.0 750.0 L520.0 705.0 L501.7 720.7Z" fill="#fff" stroke="none"/>
<path d="M471.7 742.7 L737.0 812.5 L737.5 823.8 L471.7 755.2Z" fill="#fff" stroke="#000" stroke-width="3.8" stroke-linejoin="miter"/>
<path d="M737.0 812.5 L782.5 768.8 L800.0 768.8 L737.5 823.8Z" fill="#fff" stroke="#000" stroke-width="3.8" stroke-linejoin="miter"/>
<path clip-path="url(#c4)" d="M508.3 724.6l-0.1 6.7M521.7 703.4l9.4 7.5M620.1 721.2l8.0 8.5M624.1 725.5l9.1 -2.9M642.6 723.9l-4.2 11.4M482.5 732.3l0.2 8.5M482.7 740.8l-6.7 1.4M556.3 758.0l-9.4 1.0M564.6 739.3l5.8 2.4M567.5 740.5l0.4 8.1M582.6 756.2l5.0 3.3M587.5 759.5l4.7 -4.4M620.2 733.8l-4.3 7.7M637.9 733.5l4.4 3.1M734.0 740.7l-1.1 10.5M732.9 751.1l7.8 1.2M792.6 757.7l-7.8 0.2M788.7 757.8l-5.7 -5.6M587.4 760.5l-7.7 5.6M579.7 766.1l1.9 7.3M618.4 756.7l6.0 5.5M640.0 778.6l0.4 5.3M674.2 777.1l-8.9 5.1M698.3 783.3l5.9 1.3M704.2 784.6l4.7 -4.7M737.4 757.5l-4.6 6.9M732.8 764.5l4.9 5.2M748.8 755.0l-5.2 10.5M743.6 765.5l3.8 7.2M769.1 770.1l1.8 5.9M770.9 776.0l-5.1 3.3M729.0 787.5l-3.1 4.7" fill="none" stroke="#000" stroke-width="3.8" stroke-linecap="round"/>
<path d="M501.7 720.7 L471.7 742.7 L737.0 812.5 L782.5 768.8" fill="none" stroke="#000" stroke-width="3.8" stroke-linejoin="miter" stroke-linecap="butt"/>
<path d="M766.2 725.2 L780.3 753.3 L782.4 753.3 L785.0 753.3 L788.1 753.3 L791.6 753.3 L795.3 753.4 L799.3 753.4 L803.3 753.4 L807.3 753.4 L811.3 753.5 L815.0 753.5 L818.6 753.5 L822.3 753.5 L826.0 753.5 L829.8 753.6 L833.5 753.6 L837.3 753.6 L841.1 753.7 L844.9 753.8 L848.6 754.0 L852.4 754.2 L856.1 754.5 L859.9 754.9 L863.6 755.3 L867.4 755.7 L871.1 756.2 L874.8 756.8 L878.6 757.3 L882.3 757.8 L886.1 758.4 L889.8 758.9 L893.5 759.4 L897.3 760.0 L901.0 760.6 L904.8 761.2 L908.5 761.8 L912.3 762.3 L916.1 762.9 L919.8 763.5 L923.6 764.0 L927.3 764.5 L931.0 765.0 L934.8 765.5 L938.5 765.9 L942.3 766.4 L946.0 766.8 L949.7 767.2 L953.5 767.6 L957.2 767.9 L961.0 768.1 L964.7 768.3 L968.4 768.4 L972.2 768.5 L975.9 768.5 L979.7 768.4 L983.5 768.3 L987.2 768.2 L991.0 768.0 L994.7 767.8 L998.5 767.6 L1002.2 767.3 L1005.9 767.0 L1009.7 766.7 L1013.4 766.3 L1017.2 765.9 L1020.9 765.5 L1024.6 765.0 L1028.4 764.5 L1032.1 763.9 L1035.9 763.3 L1039.6 762.7 L1043.4 762.0 L1047.2 761.2 L1051.0 760.4 L1054.8 759.5 L1058.6 758.6 L1062.4 757.7 L1066.2 756.8 L1069.9 755.9 L1073.5 755.0 L1077.0 754.2 L1080.6 753.4 L1084.2 752.5 L1088.0 751.6 L1091.7 750.8 L1095.3 749.9 L1098.7 749.1 L1101.8 748.4 L1104.6 747.7 L1107.0 747.1 L1108.9 746.7 L1057.5 655.0 L1040.0 630.0 L740.0 700.0Z" fill="#fff" stroke="none"/>
<path d="M780.3 753.3 L782.4 753.3 L785.0 753.3 L788.1 753.3 L791.6 753.3 L795.3 753.4 L799.3 753.4 L803.3 753.4 L807.3 753.4 L811.3 753.5 L815.0 753.5 L818.6 753.5 L822.3 753.5 L826.0 753.5 L829.8 753.6 L833.5 753.6 L837.3 753.6 L841.1 753.7 L844.9 753.8 L848.6 754.0 L852.4 754.2 L856.1 754.5 L859.9 754.9 L863.6 755.3 L867.4 755.7 L871.1 756.2 L874.8 756.8 L878.6 757.3 L882.3 757.8 L886.1 758.4 L889.8 758.9 L893.5 759.4 L897.3 760.0 L901.0 760.6 L904.8 761.2 L908.5 761.8 L912.3 762.3 L916.1 762.9 L919.8 763.5 L923.6 764.0 L927.3 764.5 L931.0 765.0 L934.8 765.5 L938.5 765.9 L942.3 766.4 L946.0 766.8 L949.7 767.2 L953.5 767.6 L957.2 767.9 L961.0 768.1 L964.7 768.3 L968.4 768.4 L972.2 768.5 L975.9 768.5 L979.7 768.4 L983.5 768.3 L987.2 768.2 L991.0 768.0 L994.7 767.8 L998.5 767.6 L1002.2 767.3 L1005.9 767.0 L1009.7 766.7 L1013.4 766.3 L1017.2 765.9 L1020.9 765.5 L1024.6 765.0 L1028.4 764.5 L1032.1 763.9 L1035.9 763.3 L1039.6 762.7 L1043.4 762.0 L1047.2 761.2 L1051.0 760.4 L1054.8 759.5 L1058.6 758.6 L1062.4 757.7 L1066.2 756.8 L1069.9 755.9 L1073.5 755.0 L1077.0 754.2 L1080.6 753.4 L1084.2 752.5 L1088.0 751.6 L1091.7 750.8 L1095.3 749.9 L1098.7 749.1 L1101.8 748.4 L1104.6 747.7 L1107.0 747.1 L1108.9 746.7 L1109.9 758.9 L1108.0 759.4 L1105.5 760.0 L1102.6 760.8 L1099.3 761.7 L1095.8 762.6 L1092.1 763.5 L1088.2 764.5 L1084.4 765.5 L1080.6 766.4 L1077.0 767.3 L1073.4 768.2 L1069.8 769.1 L1066.1 770.0 L1062.4 770.9 L1058.6 771.8 L1054.8 772.7 L1051.0 773.5 L1047.2 774.3 L1043.4 775.1 L1039.6 775.8 L1035.9 776.4 L1032.1 777.0 L1028.4 777.6 L1024.6 778.1 L1020.9 778.6 L1017.2 779.1 L1013.4 779.5 L1009.7 779.8 L1005.9 780.1 L1002.2 780.4 L998.5 780.6 L994.7 780.8 L991.0 780.9 L987.2 780.9 L983.5 780.9 L979.7 780.9 L975.9 780.8 L972.2 780.7 L968.4 780.6 L964.7 780.4 L961.0 780.2 L957.2 779.9 L953.5 779.6 L949.7 779.2 L946.0 778.8 L942.3 778.4 L938.5 778.0 L934.8 777.6 L931.0 777.1 L927.3 776.7 L923.6 776.3 L919.8 775.8 L916.1 775.4 L912.3 774.9 L908.5 774.4 L904.8 773.9 L901.0 773.4 L897.3 773.0 L893.5 772.5 L889.8 772.0 L886.1 771.5 L882.3 771.0 L878.6 770.5 L874.8 770.0 L871.1 769.5 L867.4 769.0 L863.6 768.5 L859.9 768.1 L856.1 767.7 L852.4 767.3 L848.6 767.0 L844.9 766.7 L841.1 766.5 L837.3 766.3 L833.5 766.2 L829.8 766.0 L826.0 765.9 L822.3 765.8 L818.6 765.6 L815.0 765.5 L811.3 765.4 L807.3 765.2 L803.3 765.1 L799.3 765.0 L795.3 764.9 L791.6 764.8 L788.1 764.7 L785.0 764.6 L782.4 764.6 L780.3 764.5Z" fill="#fff" stroke="#000" stroke-width="3.8" stroke-linejoin="miter"/>
<path d="M766.2 725.2 L780.3 753.3 L780.3 764.5 L758.7 725.2Z" fill="#fff" stroke="#000" stroke-width="3.8" stroke-linejoin="miter"/>
<path clip-path="url(#c5)" d="M969.3 654.1l-9.5 0.9M1006.5 641.5l4.2 7.5M1023.8 641.5l-0.1 8.8M919.8 670.7l6.8 7.9M923.2 674.7l6.6 -1.6M952.7 676.8l0.6 7.4M969.9 661.2l12.0 1.6M981.9 662.8l-0.3 6.7M992.5 663.2l3.7 4.5M1029.7 663.6l6.7 4.6M1048.3 656.5l-2.3 7.5M1047.1 660.2l-4.7 2.0M747.2 697.5l-3.2 4.2M873.7 705.2l2.3 7.0M915.5 693.6l1.1 10.5M916.0 698.9l-6.0 5.8M944.7 704.9l10.7 3.6M950.0 706.7l-2.6 8.4M959.3 704.2l10.2 6.7M964.4 707.5l0.2 7.0M995.2 706.5l3.4 8.0M1016.6 702.9l-1.9 9.5M1014.7 712.5l-5.4 -0.5M1061.2 700.0l4.8 2.7M1066.0 702.7l8.1 -5.0M1084.4 700.0l-5.1 4.0M880.5 721.0l-3.8 6.0M922.2 730.0l-7.1 4.2M980.5 728.1l-4.7 1.0M1003.0 712.5l-0.8 11.5M1002.7 718.2l-7.1 6.3M1023.8 712.8l-3.2 9.4M1022.3 717.4l2.6 6.3M1033.2 728.5l10.3 2.9M1043.5 731.4l1.0 9.8M1065.3 713.7l0.5 10.1M807.3 739.0l1.0 5.2M930.2 741.9l-6.0 0.6M927.2 742.2l-4.3 8.7M932.5 741.7l-1.9 7.5M930.6 749.2l6.8 2.3M981.0 736.8l-7.1 9.8M977.4 741.7l5.9 6.0M1012.9 738.9l4.4 3.7M1047.2 739.0l0.5 6.1M1070.8 748.0l10.1 7.3M1080.9 755.2l7.5 -4.7M993.1 761.9l-8.0 6.6M1013.6 760.1l4.1 11.7M1017.7 771.8l-4.4 3.0" fill="none" stroke="#000" stroke-width="3.8" stroke-linecap="round"/>
<path d="M766.2 725.2 L780.3 753.3" fill="none" stroke="#000" stroke-width="3.8" stroke-linejoin="miter" stroke-linecap="butt"/>
<path d="M1108.9 746.7 L1057.5 655.0" fill="none" stroke="#000" stroke-width="3.8" stroke-linejoin="miter" stroke-linecap="butt"/>
<path d="M1086.5 645.0 L1143.8 738.8 L1145.9 738.2 L1148.4 737.5 L1151.4 736.7 L1154.8 735.8 L1158.5 734.8 L1162.5 733.7 L1166.7 732.6 L1171.0 731.4 L1175.5 730.2 L1180.0 729.0 L1184.8 727.7 L1189.9 726.3 L1195.5 724.8 L1201.2 723.3 L1207.0 721.7 L1212.8 720.2 L1218.6 718.7 L1224.1 717.3 L1229.2 716.1 L1234.0 715.0 L1238.3 714.1 L1242.3 713.3 L1246.0 712.6 L1249.6 712.0 L1252.9 711.5 L1256.2 711.0 L1259.5 710.6 L1262.9 710.2 L1266.4 709.9 L1270.0 709.5 L1273.7 709.1 L1277.4 708.8 L1281.1 708.5 L1284.8 708.2 L1288.6 707.9 L1292.4 707.7 L1296.3 707.6 L1300.4 707.5 L1304.6 707.5 L1309.0 707.5 L1313.6 707.6 L1318.3 707.8 L1323.1 708.0 L1328.1 708.3 L1333.2 708.7 L1338.4 709.1 L1343.7 709.5 L1349.0 710.0 L1354.5 710.5 L1360.0 711.0 L1365.7 711.6 L1371.6 712.2 L1377.6 712.9 L1383.8 713.6 L1390.0 714.4 L1396.2 715.1 L1402.3 715.9 L1408.4 716.6 L1414.3 717.3 L1420.0 718.0 L1425.7 718.7 L1431.7 719.3 L1437.7 720.0 L1443.7 720.7 L1449.5 721.3 L1455.0 722.0 L1460.1 722.5 L1464.6 723.0 L1468.5 723.5 L1471.5 723.8 L1394.0 615.0 L1380.0 595.0 L1070.0 620.0Z" fill="#fff" stroke="none"/>
<path d="M1143.8 738.8 L1145.9 738.2 L1148.4 737.5 L1151.4 736.7 L1154.8 735.8 L1158.5 734.8 L1162.5 733.7 L1166.7 732.6 L1171.0 731.4 L1175.5 730.2 L1180.0 729.0 L1184.8 727.7 L1189.9 726.3 L1195.5 724.8 L1201.2 723.3 L1207.0 721.7 L1212.8 720.2 L1218.6 718.7 L1224.1 717.3 L1229.2 716.1 L1234.0 715.0 L1238.3 714.1 L1242.3 713.3 L1246.0 712.6 L1249.6 712.0 L1252.9 711.5 L1256.2 711.0 L1259.5 710.6 L1262.9 710.2 L1266.4 709.9 L1270.0 709.5 L1273.7 709.1 L1277.4 708.8 L1281.1 708.5 L1284.8 708.2 L1288.6 707.9 L1292.4 707.7 L1296.3 707.6 L1300.4 707.5 L1304.6 707.5 L1309.0 707.5 L1313.6 707.6 L1318.3 707.8 L1323.1 708.0 L1328.1 708.3 L1333.2 708.7 L1338.4 709.1 L1343.7 709.5 L1349.0 710.0 L1354.5 710.5 L1360.0 711.0 L1365.7 711.6 L1371.6 712.2 L1377.6 712.9 L1383.8 713.6 L1390.0 714.4 L1396.2 715.1 L1402.3 715.9 L1408.4 716.6 L1414.3 717.3 L1420.0 718.0 L1425.7 718.7 L1431.7 719.3 L1437.7 720.0 L1443.7 720.7 L1449.5 721.3 L1455.0 722.0 L1460.1 722.5 L1464.6 723.0 L1468.5 723.5 L1471.5 723.8 L1471.5 736.3 L1468.5 735.9 L1464.6 735.5 L1460.1 734.9 L1455.0 734.3 L1449.5 733.6 L1443.7 732.9 L1437.7 732.2 L1431.7 731.4 L1425.7 730.7 L1420.0 730.0 L1414.3 729.3 L1408.4 728.5 L1402.3 727.7 L1396.2 726.9 L1390.0 726.1 L1383.8 725.3 L1377.6 724.5 L1371.6 723.8 L1365.7 723.1 L1360.0 722.5 L1354.5 722.0 L1349.0 721.4 L1343.7 720.9 L1338.4 720.5 L1333.2 720.1 L1328.1 719.7 L1323.1 719.4 L1318.3 719.1 L1313.6 718.9 L1309.0 718.8 L1304.6 718.7 L1300.4 718.7 L1296.3 718.8 L1292.4 718.9 L1288.6 719.1 L1284.8 719.3 L1281.1 719.6 L1277.4 719.9 L1273.7 720.2 L1270.0 720.5 L1266.4 720.8 L1262.9 721.1 L1259.5 721.5 L1256.2 721.8 L1252.9 722.2 L1249.6 722.7 L1246.0 723.2 L1242.3 723.8 L1238.3 724.6 L1234.0 725.5 L1229.3 726.6 L1224.1 727.9 L1218.6 729.3 L1213.0 730.9 L1207.2 732.5 L1201.3 734.1 L1195.6 735.7 L1190.1 737.3 L1184.9 738.7 L1180.0 740.0 L1175.3 741.2 L1170.7 742.3 L1166.1 743.5 L1161.6 744.5 L1157.4 745.6 L1153.4 746.5 L1149.7 747.4 L1146.5 748.1 L1143.7 748.8 L1141.5 749.3Z" fill="#fff" stroke="#000" stroke-width="3.8" stroke-linejoin="miter"/>
<path d="M1086.5 645.0 L1143.8 738.8 L1141.5 749.3 L1080.3 647.2Z" fill="#fff" stroke="#000" stroke-width="3.8" stroke-linejoin="miter"/>
<path clip-path="url(#c6)" d="M1091.6 617.8l8.2 3.2M1157.9 613.4l-3.4 7.5M1291.2 615.6l5.6 1.7M1343.6 598.2l-7.4 9.8M1356.9 612.2l0.6 5.5M1375.9 595.6l6.3 4.5M1104.9 636.1l3.8 4.4M1129.7 618.2l-4.8 8.5M1177.8 632.3l-4.3 3.2M1194.7 641.8l-6.1 4.5M1191.7 644.1l1.7 4.8M1223.4 638.0l-6.9 0.7M1252.5 630.1l-9.3 0.7M1276.1 627.6l1.2 5.3M1288.6 640.6l6.3 8.1M1315.5 630.2l-3.9 8.3M1340.5 632.7l4.2 6.4M1375.1 624.2l-0.5 12.3M1109.0 666.9l-10.1 2.3M1124.0 663.5l9.5 6.2M1163.2 654.4l4.2 11.9M1179.3 662.0l8.0 10.0M1215.9 656.8l-0.2 5.7M1242.0 648.8l10.0 2.4M1262.9 652.7l1.5 12.0M1302.7 672.6l-0.9 6.0M1302.2 675.6l4.5 3.0M1332.5 649.3l-10.7 7.1M1353.9 650.2l-12.2 2.0M1341.7 652.2l-1.9 -7.1M1363.7 674.7l6.6 0.5M1370.3 675.2l5.7 -6.4M1414.6 656.8l11.1 4.6M1422.4 663.1l-1.6 10.3M1137.8 696.9l4.8 8.0M1166.2 677.6l-10.3 2.2M1195.4 697.2l1.0 8.2M1209.5 675.0l8.1 8.0M1253.9 675.7l4.3 7.5M1281.7 685.5l8.4 5.1M1290.6 675.7l0.3 4.6M1340.3 681.8l-3.0 10.7M1337.3 692.5l-6.4 1.5M1362.6 670.8l2.4 10.9M1365.0 681.7l8.4 5.4M1384.0 695.5l-11.1 6.2M1410.9 673.2l-2.5 6.2M1408.4 679.5l-7.1 3.0M1434.4 689.1l8.8 0.7M1132.8 725.9l8.0 2.7M1170.1 702.7l-5.5 3.4M1251.0 705.9l-6.8 2.1M1247.7 706.9l-2.7 5.9M1315.3 704.8l-9.4 5.2M1351.1 705.0l10.9 3.6M1423.2 712.1l11.1 1.8M1434.4 713.9l5.8 -7.2" fill="none" stroke="#000" stroke-width="3.8" stroke-linecap="round"/>
<path d="M1086.5 645.0 L1143.8 738.8" fill="none" stroke="#000" stroke-width="3.8" stroke-linejoin="miter" stroke-linecap="butt"/>
<path d="M1471.5 723.8 L1394.0 615.0" fill="none" stroke="#000" stroke-width="3.8" stroke-linejoin="miter" stroke-linecap="butt"/>
<path d="M1424.0 616.0 L1510.0 730.0 L1513.0 730.2 L1516.8 730.5 L1521.4 730.8 L1526.4 731.2 L1531.9 731.5 L1537.7 731.9 L1543.5 732.3 L1549.3 732.6 L1554.8 732.8 L1560.0 733.0 L1565.0 733.1 L1569.9 733.2 L1574.9 733.3 L1579.9 733.4 L1584.8 733.4 L1589.7 733.4 L1594.6 733.3 L1599.5 733.1 L1604.3 732.8 L1609.0 732.5 L1613.7 732.1 L1618.2 731.5 L1622.8 730.9 L1627.2 730.2 L1631.7 729.5 L1636.1 728.7 L1640.6 727.8 L1645.0 726.9 L1649.5 726.0 L1654.0 725.0 L1658.5 724.0 L1662.8 723.0 L1667.0 721.9 L1671.3 720.8 L1675.6 719.7 L1680.0 718.5 L1684.6 717.1 L1689.4 715.7 L1694.5 714.2 L1700.0 712.5 L1706.0 710.6 L1712.7 708.5 L1719.7 706.2 L1727.1 703.9 L1734.5 701.4 L1741.9 698.9 L1749.1 696.5 L1756.0 694.2 L1762.3 692.0 L1768.0 690.0 L1773.2 688.1 L1778.1 686.3 L1782.7 684.5 L1787.1 682.7 L1791.1 681.1 L1794.8 679.6 L1798.1 678.2 L1801.1 676.9 L1803.6 675.9 L1805.7 675.0 L1725.7 578.3 L1700.0 550.0 L1400.0 590.0Z" fill="#fff" stroke="none"/>
<path d="M1510.0 730.0 L1513.0 730.2 L1516.8 730.5 L1521.4 730.8 L1526.4 731.2 L1531.9 731.5 L1537.7 731.9 L1543.5 732.3 L1549.3 732.6 L1554.8 732.8 L1560.0 733.0 L1565.0 733.1 L1569.9 733.2 L1574.9 733.3 L1579.9 733.4 L1584.8 733.4 L1589.7 733.4 L1594.6 733.3 L1599.5 733.1 L1604.3 732.8 L1609.0 732.5 L1613.7 732.1 L1618.2 731.5 L1622.8 730.9 L1627.2 730.2 L1631.7 729.5 L1636.1 728.7 L1640.6 727.8 L1645.0 726.9 L1649.5 726.0 L1654.0 725.0 L1658.5 724.0 L1662.8 723.0 L1667.0 721.9 L1671.3 720.8 L1675.6 719.7 L1680.0 718.5 L1684.6 717.1 L1689.4 715.7 L1694.5 714.2 L1700.0 712.5 L1706.0 710.6 L1712.7 708.5 L1719.7 706.2 L1727.1 703.9 L1734.5 701.4 L1741.9 698.9 L1749.1 696.5 L1756.0 694.2 L1762.3 692.0 L1768.0 690.0 L1773.2 688.1 L1778.1 686.3 L1782.7 684.5 L1787.1 682.7 L1791.1 681.1 L1794.8 679.6 L1798.1 678.2 L1801.1 676.9 L1803.6 675.9 L1805.7 675.0 L1805.7 688.3 L1803.6 689.1 L1801.1 690.0 L1798.1 691.1 L1794.8 692.4 L1791.1 693.7 L1787.1 695.2 L1782.7 696.8 L1778.1 698.5 L1773.2 700.2 L1768.0 702.0 L1762.3 703.9 L1756.0 706.1 L1749.1 708.4 L1741.9 710.9 L1734.5 713.4 L1727.1 715.8 L1719.7 718.2 L1712.7 720.5 L1706.0 722.6 L1700.0 724.5 L1694.5 726.1 L1689.4 727.6 L1684.6 729.0 L1680.0 730.3 L1675.6 731.4 L1671.3 732.5 L1667.0 733.6 L1662.8 734.6 L1658.5 735.5 L1654.0 736.5 L1649.5 737.5 L1645.0 738.4 L1640.6 739.3 L1636.1 740.1 L1631.7 740.9 L1627.2 741.7 L1622.8 742.4 L1618.2 743.0 L1613.7 743.5 L1609.0 744.0 L1604.3 744.4 L1599.5 744.7 L1594.6 744.9 L1589.7 745.1 L1584.8 745.2 L1579.9 745.3 L1574.9 745.3 L1569.9 745.2 L1565.0 745.1 L1560.0 745.0 L1554.8 744.8 L1549.3 744.5 L1543.5 744.0 L1537.7 743.6 L1531.9 743.1 L1526.4 742.6 L1521.4 742.1 L1516.8 741.6 L1513.0 741.3 L1510.0 741.0Z" fill="#fff" stroke="#000" stroke-width="3.8" stroke-linejoin="miter"/>
<path d="M1424.0 616.0 L1510.0 730.0 L1510.0 741.0 L1419.0 616.3Z" fill="#fff" stroke="#000" stroke-width="3.8" stroke-linejoin="miter"/>
<path clip-path="url(#c7)" d="M1630.5 569.1l9.6 4.1M1649.3 554.9l3.3 5.4M1650.9 557.6l-3.8 8.5M1706.1 558.9l5.9 5.2M1463.4 596.1l-3.3 8.9M1487.1 582.0l-2.8 3.7M1520.9 589.2l-11.0 4.6M1538.4 599.5l-5.7 8.8M1532.7 608.3l3.2 7.5M1571.2 590.8l1.7 8.2M1599.1 581.6l-7.9 7.4M1635.1 589.4l-2.5 6.0M1674.1 581.0l-8.6 9.7M1669.7 585.9l4.0 6.3M1671.5 581.9l0.0 6.3M1671.5 588.2l-8.8 3.7M1702.5 594.1l-7.5 1.9M1452.1 614.1l-6.1 4.3M1474.7 614.4l-6.1 0.5M1492.6 618.8l5.5 4.9M1511.9 611.7l-7.1 8.6M1508.3 616.0l1.7 5.9M1550.2 624.3l-11.4 0.5M1589.0 601.9l-0.7 4.7M1610.7 607.0l-1.8 11.0M1628.9 601.8l0.6 6.3M1629.5 608.2l6.2 1.3M1664.2 617.7l-2.7 8.6M1674.1 610.0l2.4 4.7M1714.5 606.7l-3.9 3.9M1710.6 610.6l-4.5 -3.1M1744.3 611.6l-5.9 9.3M1756.2 618.3l8.2 6.9M1764.4 625.2l-0.6 8.9M1482.7 642.1l-7.5 4.7M1475.2 646.8l-5.7 -4.3M1485.3 633.1l9.2 2.9M1532.3 628.7l-0.7 6.5M1545.7 641.6l-2.4 5.7M1586.9 634.2l3.2 3.7M1588.5 636.1l4.4 -3.7M1603.9 631.6l-1.8 6.8M1620.5 641.9l-4.7 4.1M1615.8 646.0l-7.4 -1.2M1672.3 630.2l-7.8 7.9M1676.3 652.6l-7.2 8.5M1669.1 661.1l-8.4 0.6M1702.2 644.7l5.6 6.3M1743.6 651.6l4.8 3.6M1768.0 633.9l-2.6 4.3M1506.9 660.3l-5.2 8.5M1501.7 668.8l-6.4 -3.8M1522.0 659.1l-5.3 0.8M1554.6 654.8l0.2 8.7M1554.8 659.1l7.0 2.9M1566.9 654.7l5.1 11.3M1572.1 665.9l8.3 -4.0M1588.7 664.2l1.4 5.4M1589.4 666.9l-9.0 3.3M1641.9 658.7l-4.4 9.9M1637.4 668.7l-8.2 -2.0M1646.3 677.9l11.9 4.7M1652.3 680.3l-0.5 5.5M1686.3 668.8l-4.7 8.8M1709.7 675.7l1.3 5.4M1734.8 669.3l1.8 7.6M1775.5 655.4l3.4 10.1M1796.1 667.0l-4.3 1.8M1535.2 683.1l-8.1 10.0M1541.0 685.2l-4.2 2.9M1570.2 707.6l9.3 3.0M1595.4 689.7l9.9 4.0M1600.4 691.7l2.7 6.2M1643.0 699.8l-8.3 9.6M1634.7 709.5l0.8 9.3M1657.6 701.3l4.4 1.8M1674.9 687.2l-0.6 12.1M1674.6 693.3l-7.2 3.2M1706.2 699.3l-2.6 9.3M1508.0 725.3l7.4 8.2M1552.7 716.1l5.0 1.8M1555.2 717.0l2.4 -7.1M1585.0 728.5l-3.5 3.6M1611.0 725.6l-8.5 3.8M1602.5 729.4l-7.3 -3.6M1664.2 715.0l3.5 10.5" fill="none" stroke="#000" stroke-width="3.8" stroke-linecap="round"/>
<path d="M1424.0 616.0 L1510.0 730.0" fill="none" stroke="#000" stroke-width="3.8" stroke-linejoin="miter" stroke-linecap="butt"/>
<path d="M1805.7 675.0 L1725.7 578.3" fill="none" stroke="#000" stroke-width="3.8" stroke-linejoin="miter" stroke-linecap="butt"/>
<path d="M1746.3 565.2 L1830.7 659.4 L1832.1 658.8 L1833.9 658.1 L1836.1 657.3 L1838.5 656.3 L1841.1 655.3 L1843.8 654.2 L1846.7 653.1 L1849.5 652.0 L1852.3 651.0 L1855.0 650.0 L1857.7 649.1 L1860.5 648.1 L1863.5 647.2 L1866.4 646.2 L1869.4 645.3 L1872.4 644.3 L1875.3 643.4 L1878.0 642.6 L1880.6 641.8 L1883.0 641.0 L1885.1 640.3 L1886.9 639.8 L1888.5 639.3 L1889.9 638.8 L1891.3 638.4 L1892.7 637.9 L1894.2 637.4 L1896.0 636.9 L1898.0 636.3 L1900.4 635.5 L1903.2 634.6 L1906.2 633.6 L1909.5 632.6 L1912.9 631.5 L1916.5 630.3 L1920.2 629.1 L1924.0 628.0 L1927.7 626.8 L1931.4 625.6 L1935.0 624.5 L1938.5 623.4 L1941.8 622.4 L1945.1 621.3 L1948.3 620.2 L1951.7 619.2 L1955.1 618.1 L1958.7 617.0 L1962.5 616.0 L1966.6 614.9 L1971.0 613.8 L1975.9 612.7 L1981.2 611.5 L1986.9 610.2 L1992.8 609.0 L1998.9 607.8 L2004.9 606.6 L2010.9 605.4 L2016.6 604.3 L2022.0 603.4 L2027.0 602.5 L2031.5 601.8 L2035.8 601.1 L2039.8 600.6 L2043.6 600.1 L2047.2 599.7 L2050.8 599.3 L2054.3 599.0 L2057.8 598.6 L2061.4 598.3 L2065.0 598.0 L2068.8 597.7 L2072.9 597.4 L2077.1 597.2 L2081.3 596.9 L2085.4 596.7 L2089.3 596.5 L2092.9 596.4 L2096.1 596.2 L2098.9 596.1 L2101.0 596.0 L1969.0 464.0 L1850.0 480.0Z" fill="#fff" stroke="none"/>
<path d="M1830.7 659.4 L1832.1 658.8 L1833.9 658.1 L1836.1 657.3 L1838.5 656.3 L1841.1 655.3 L1843.8 654.2 L1846.7 653.1 L1849.5 652.0 L1852.3 651.0 L1855.0 650.0 L1857.7 649.1 L1860.5 648.1 L1863.5 647.2 L1866.4 646.2 L1869.4 645.3 L1872.4 644.3 L1875.3 643.4 L1878.0 642.6 L1880.6 641.8 L1883.0 641.0 L1885.1 640.3 L1886.9 639.8 L1888.5 639.3 L1889.9 638.8 L1891.3 638.4 L1892.7 637.9 L1894.2 637.4 L1896.0 636.9 L1898.0 636.3 L1900.4 635.5 L1903.2 634.6 L1906.2 633.6 L1909.5 632.6 L1912.9 631.5 L1916.5 630.3 L1920.2 629.1 L1924.0 628.0 L1927.7 626.8 L1931.4 625.6 L1935.0 624.5 L1938.5 623.4 L1941.8 622.4 L1945.1 621.3 L1948.3 620.2 L1951.7 619.2 L1955.1 618.1 L1958.7 617.0 L1962.5 616.0 L1966.6 614.9 L1971.0 613.8 L1975.9 612.7 L1981.2 611.5 L1986.9 610.2 L1992.8 609.0 L1998.9 607.8 L2004.9 606.6 L2010.9 605.4 L2016.6 604.3 L2022.0 603.4 L2027.0 602.5 L2031.5 601.8 L2035.8 601.1 L2039.8 600.6 L2043.6 600.1 L2047.2 599.7 L2050.8 599.3 L2054.3 599.0 L2057.8 598.6 L2061.4 598.3 L2065.0 598.0 L2068.8 597.7 L2072.9 597.4 L2077.1 597.2 L2081.3 596.9 L2085.4 596.7 L2089.3 596.5 L2092.9 596.4 L2096.1 596.2 L2098.9 596.1 L2101.0 596.0 L2101.0 611.0 L2098.9 611.0 L2096.1 611.0 L2092.9 611.1 L2089.3 611.1 L2085.4 611.1 L2081.3 611.1 L2077.1 611.2 L2072.9 611.3 L2068.8 611.4 L2065.0 611.5 L2061.4 611.6 L2057.8 611.7 L2054.3 611.8 L2050.8 611.9 L2047.2 612.0 L2043.6 612.2 L2039.8 612.4 L2035.8 612.7 L2031.5 613.2 L2027.0 613.8 L2022.0 614.6 L2016.6 615.5 L2010.9 616.5 L2004.9 617.6 L1998.9 618.8 L1992.8 620.1 L1986.9 621.3 L1981.2 622.6 L1975.9 623.8 L1971.0 625.0 L1966.6 626.1 L1962.5 627.3 L1958.7 628.4 L1955.1 629.6 L1951.7 630.7 L1948.3 631.9 L1945.1 633.0 L1941.8 634.2 L1938.5 635.3 L1935.0 636.5 L1931.4 637.7 L1927.7 638.9 L1924.0 640.2 L1920.2 641.5 L1916.5 642.8 L1912.9 644.0 L1909.5 645.2 L1906.2 646.3 L1903.2 647.3 L1900.4 648.2 L1898.0 648.9 L1896.0 649.4 L1894.2 649.8 L1892.7 650.1 L1891.3 650.4 L1889.9 650.6 L1888.5 650.9 L1886.9 651.3 L1885.1 651.8 L1883.0 652.5 L1880.6 653.4 L1878.0 654.3 L1875.3 655.4 L1872.4 656.5 L1869.4 657.7 L1866.4 659.0 L1863.5 660.3 L1860.5 661.5 L1857.7 662.8 L1855.0 664.0 L1852.3 665.3 L1849.5 666.6 L1846.7 668.0 L1843.8 669.5 L1841.1 670.9 L1838.5 672.2 L1836.1 673.5 L1833.9 674.6 L1832.1 675.6 L1830.7 676.3Z" fill="#fff" stroke="#000" stroke-width="3.8" stroke-linejoin="miter"/>
<path d="M1746.3 565.2 L1830.7 659.4 L1830.7 676.3 L1737.8 569.4Z" fill="#fff" stroke="#000" stroke-width="3.8" stroke-linejoin="miter"/>
<path clip-path="url(#c8)" d="M1853.9 487.3l8.2 4.7M1881.3 481.1l4.6 0.9M1885.9 482.0l3.7 -5.4M1929.4 479.7l6.0 3.7M1945.8 466.5l3.0 4.8M1947.3 468.9l6.8 -1.1M1975.6 478.8l-1.8 10.7M1848.0 491.8l-3.1 3.9M1872.0 495.9l1.5 9.4M1872.8 500.6l-4.8 2.4M1895.1 497.8l7.8 9.6M1911.2 513.7l4.0 4.0M1955.3 502.9l11.6 0.0M1961.0 502.9l1.2 -6.0M1977.8 512.2l-10.6 5.1M2006.8 516.0l-4.0 2.2M2002.9 518.3l-3.5 -5.6M1795.6 526.4l0.1 4.7M1814.5 517.5l-3.0 5.7M1840.9 526.5l-3.1 12.0M1863.9 527.1l10.0 8.1M1896.9 530.6l-8.8 2.3M1912.8 520.9l2.3 7.0M1913.9 524.4l-3.1 4.0M1953.5 529.7l-6.0 8.9M1974.8 528.1l0.5 4.8M1999.2 538.0l-9.8 6.4M2015.0 523.1l12.1 4.4M2021.0 525.3l1.2 6.7M1766.7 555.2l5.5 4.6M1771.7 547.9l3.4 5.8M1797.5 558.3l9.7 2.3M1850.9 551.1l-8.9 8.4M1852.5 552.5l4.8 0.9M1896.0 553.7l-0.7 7.3M1895.6 557.4l5.2 1.6M1933.1 554.8l-3.8 4.7M1963.8 551.5l-6.6 5.4M1960.6 554.2l-0.8 8.1M1981.8 565.2l-9.7 5.8M2002.0 565.3l-3.3 5.2M2033.6 544.4l-5.1 8.1M2059.5 566.6l6.3 9.9M2062.6 571.6l6.2 -1.4M1769.2 578.7l7.5 4.2M1789.3 579.8l5.8 1.9M1815.3 592.1l-5.5 9.3M1830.4 584.3l0.7 8.5M1871.4 579.3l-1.3 8.3M1909.4 584.1l-2.5 5.9M1918.8 589.9l-7.7 1.5M1956.6 595.2l-7.4 0.4M1949.2 595.6l-4.5 -4.7M1989.4 591.9l-2.0 7.7M1996.4 596.6l-4.0 3.9M2028.1 577.0l-6.0 1.3M2025.1 577.7l1.9 9.3M2067.5 571.7l-2.8 3.7M1792.6 609.7l-5.1 2.9M1812.2 608.5l1.2 11.8M1812.8 614.4l7.2 6.2M1847.9 619.6l7.6 2.8M1873.4 620.2l5.5 0.2M1878.9 620.4l4.9 -7.8M1902.4 611.8l-5.1 7.3M1925.7 599.0l-4.1 9.0M1921.6 608.0l2.7 5.2M1976.6 598.9l-5.2 7.0M1830.4 639.7l6.1 3.1M1839.8 647.1l1.6 12.0M1841.4 659.1l7.4 5.3" fill="none" stroke="#000" stroke-width="3.8" stroke-linecap="round"/>
<path d="M1746.3 565.2 L1830.7 659.4" fill="none" stroke="#000" stroke-width="3.8" stroke-linejoin="miter" stroke-linecap="butt"/>
<path d="M2101.0 596.0 L1969.0 464.0" fill="none" stroke="#000" stroke-width="3.8" stroke-linejoin="miter" stroke-linecap="butt"/>
<path d="M250.0 642.7 L540.0 715.5 L542.3 714.9 L545.3 714.2 L548.7 713.4 L552.6 712.4 L556.9 711.3 L561.4 710.3 L566.0 709.2 L570.7 708.2 L575.4 707.3 L580.0 706.5 L584.5 705.8 L589.0 705.0 L593.6 704.3 L598.3 703.5 L603.1 702.9 L608.1 702.3 L613.2 701.7 L618.6 701.4 L624.1 701.1 L630.0 701.0 L636.3 701.1 L643.0 701.4 L650.2 701.8 L657.5 702.4 L665.0 703.0 L672.5 703.7 L679.8 704.5 L687.0 705.1 L693.7 705.8 L700.0 706.3 L705.8 706.8 L711.3 707.2 L716.5 707.7 L721.4 708.2 L726.2 708.6 L731.0 709.0 L735.6 709.5 L740.3 709.8 L745.1 710.2 L750.0 710.5 L755.0 710.8 L760.2 711.1 L765.3 711.3 L770.5 711.6 L775.6 711.8 L780.7 712.0 L785.7 712.1 L790.6 712.2 L795.4 712.3 L800.0 712.3 L804.4 712.3 L808.7 712.2 L812.9 712.1 L817.0 712.0 L820.9 711.8 L824.8 711.6 L828.7 711.4 L832.5 711.1 L836.2 710.8 L840.0 710.5 L843.7 710.2 L847.3 709.8 L850.8 709.5 L854.3 709.1 L857.7 708.7 L861.1 708.2 L864.5 707.7 L868.0 707.2 L871.4 706.6 L875.0 706.0 L878.6 705.3 L882.3 704.6 L885.9 703.8 L889.6 703.0 L893.3 702.2 L897.0 701.3 L900.8 700.3 L904.5 699.4 L908.3 698.4 L912.0 697.3 L915.8 696.2 L919.5 695.0 L923.3 693.8 L927.0 692.6 L930.8 691.3 L934.6 690.0 L938.4 688.7 L942.3 687.3 L946.1 685.9 L950.0 684.5 L953.9 683.1 L957.9 681.6 L961.9 680.0 L966.0 678.5 L970.0 676.9 L974.0 675.3 L978.1 673.7 L982.1 672.1 L986.1 670.5 L990.0 669.0 L994.1 667.4 L998.3 665.7 L1002.7 664.0 L1007.2 662.2 L1011.5 660.5 L1015.6 658.9 L1019.5 657.4 L1022.9 656.0 L1025.7 654.9 L1028.0 654.0 L430.0 513.8 L392.0 536.0 L350.0 562.0 L292.0 603.0 L256.0 640.0Z" fill="#fff" stroke="none"/>
<path d="M540.0 715.5 L542.3 714.9 L545.3 714.2 L548.7 713.4 L552.6 712.4 L556.9 711.3 L561.4 710.3 L566.0 709.2 L570.7 708.2 L575.4 707.3 L580.0 706.5 L584.5 705.8 L589.0 705.0 L593.6 704.3 L598.3 703.5 L603.1 702.9 L608.1 702.3 L613.2 701.7 L618.6 701.4 L624.1 701.1 L630.0 701.0 L636.3 701.1 L643.0 701.4 L650.2 701.8 L657.5 702.4 L665.0 703.0 L672.5 703.7 L679.8 704.5 L687.0 705.1 L693.7 705.8 L700.0 706.3 L705.8 706.8 L711.3 707.2 L716.5 707.7 L721.4 708.2 L726.2 708.6 L731.0 709.0 L735.6 709.5 L740.3 709.8 L745.1 710.2 L750.0 710.5 L755.0 710.8 L760.2 711.1 L765.3 711.3 L770.5 711.6 L775.6 711.8 L780.7 712.0 L785.7 712.1 L790.6 712.2 L795.4 712.3 L800.0 712.3 L804.4 712.3 L808.7 712.2 L812.9 712.1 L817.0 712.0 L820.9 711.8 L824.8 711.6 L828.7 711.4 L832.5 711.1 L836.2 710.8 L840.0 710.5 L843.7 710.2 L847.3 709.8 L850.8 709.5 L854.3 709.1 L857.7 708.7 L861.1 708.2 L864.5 707.7 L868.0 707.2 L871.4 706.6 L875.0 706.0 L878.6 705.3 L882.3 704.6 L885.9 703.8 L889.6 703.0 L893.3 702.2 L897.0 701.3 L900.8 700.3 L904.5 699.4 L908.3 698.4 L912.0 697.3 L915.8 696.2 L919.5 695.0 L923.3 693.8 L927.0 692.6 L930.8 691.3 L934.6 690.0 L938.4 688.7 L942.3 687.3 L946.1 685.9 L950.0 684.5 L953.9 683.1 L957.9 681.6 L961.9 680.0 L966.0 678.5 L970.0 676.9 L974.0 675.3 L978.1 673.7 L982.1 672.1 L986.1 670.5 L990.0 669.0 L994.1 667.4 L998.3 665.7 L1002.7 664.0 L1007.2 662.2 L1011.5 660.5 L1015.6 658.9 L1019.5 657.4 L1022.9 656.0 L1025.7 654.9 L1028.0 654.0 L1028.0 666.2 L1025.7 667.1 L1022.9 668.2 L1019.5 669.5 L1015.6 671.0 L1011.5 672.6 L1007.2 674.3 L1002.7 676.1 L998.3 677.8 L994.1 679.4 L990.0 681.0 L986.1 682.5 L982.1 684.1 L978.1 685.6 L974.0 687.2 L970.0 688.8 L966.0 690.3 L961.9 691.9 L957.9 693.4 L953.9 694.9 L950.0 696.3 L946.1 697.7 L942.3 699.1 L938.4 700.5 L934.6 701.9 L930.8 703.2 L927.0 704.5 L923.3 705.8 L919.5 707.0 L915.8 708.2 L912.0 709.3 L908.3 710.4 L904.5 711.4 L900.8 712.3 L897.0 713.3 L893.3 714.2 L889.6 715.0 L885.9 715.8 L882.3 716.6 L878.6 717.3 L875.0 718.0 L871.4 718.6 L868.0 719.3 L864.5 719.8 L861.1 720.3 L857.7 720.8 L854.3 721.3 L850.8 721.7 L847.3 722.1 L843.7 722.4 L840.0 722.8 L836.2 723.1 L832.5 723.5 L828.7 723.8 L824.8 724.1 L820.9 724.3 L817.0 724.5 L812.9 724.7 L808.7 724.9 L804.4 725.0 L800.0 725.0 L795.4 725.0 L790.6 724.9 L785.7 724.8 L780.7 724.7 L775.6 724.5 L770.5 724.3 L765.3 724.0 L760.2 723.7 L755.0 723.4 L750.0 723.0 L745.1 722.6 L740.3 722.1 L735.6 721.6 L731.0 721.0 L726.2 720.4 L721.4 719.8 L716.5 719.2 L711.3 718.6 L705.8 718.0 L700.0 717.5 L693.7 717.0 L687.0 716.4 L679.8 715.8 L672.5 715.2 L665.0 714.7 L657.5 714.2 L650.2 713.8 L643.0 713.5 L636.3 713.3 L630.0 713.3 L624.1 713.5 L618.6 713.8 L613.2 714.3 L608.1 714.9 L603.1 715.6 L598.3 716.3 L593.6 717.1 L589.0 717.9 L584.5 718.7 L580.0 719.5 L575.4 720.3 L570.7 721.3 L566.0 722.3 L561.4 723.3 L556.9 724.4 L552.6 725.4 L548.7 726.4 L545.3 727.2 L542.3 728.0 L540.0 728.5Z" fill="#fff" stroke="#000" stroke-width="3.8" stroke-linejoin="miter"/>
<path d="M250.0 642.7 L540.0 715.0 L540.0 728.3 L250.0 656.0Z" fill="#fff" stroke="none"/>
<path d="M250.0 642.7 L540.0 715.0 L540.0 728.3 L250.0 656.0" fill="none" stroke="#000" stroke-width="3.8" stroke-linejoin="miter"/>
<path clip-path="url(#c9)" d="M409.4 526.8l-0.9 9.5M408.5 536.3l3.5 4.2M438.3 519.9l-2.2 10.5M470.9 528.9l-9.9 7.2M384.0 555.4l-11.9 0.4M403.6 545.0l0.1 5.4M403.6 547.7l-4.6 2.9M436.6 541.1l0.1 6.2M448.5 544.0l-7.0 8.1M445.1 548.0l-7.5 -5.3M479.1 540.8l5.9 2.7M509.4 548.0l-1.2 10.5M508.7 553.2l9.1 1.4M527.0 549.7l-10.3 3.2M516.7 552.9l1.7 7.3M547.9 550.8l3.9 4.7M578.3 556.4l-7.9 1.9M570.4 558.2l-3.9 8.6M620.2 559.5l-3.1 4.3M355.0 564.6l1.2 10.2M369.5 579.0l9.4 0.4M379.0 579.4l4.9 8.0M407.3 577.1l-0.2 6.7M420.9 586.8l-5.8 3.3M466.4 573.5l-4.2 2.1M478.1 577.4l-6.0 4.7M509.8 568.4l-2.0 4.3M542.1 579.3l5.6 6.9M573.5 578.1l-2.3 5.7M588.2 590.9l-2.8 3.8M620.4 575.8l-3.7 11.0M616.8 586.8l4.3 3.6M736.9 586.2l-9.1 1.3M280.9 620.1l6.8 1.9M327.2 610.9l0.5 9.8M348.3 598.1l-6.4 3.2M367.2 613.6l9.2 0.6M388.7 620.4l-5.3 2.6M386.1 621.7l1.2 8.9M415.2 613.2l8.1 8.3M449.4 592.6l-1.2 8.6M464.9 601.3l6.0 6.3M467.9 604.5l0.3 8.3M510.2 601.9l3.3 4.2M528.7 604.9l-10.7 4.8M566.4 601.3l-6.3 0.3M560.1 601.5l-0.7 -6.8M571.7 615.2l5.0 1.2M606.0 606.6l9.7 1.9M731.6 595.9l-9.1 7.5M722.5 603.4l-1.4 9.9M270.1 623.9l9.7 6.2M301.6 621.5l0.3 12.1M317.8 627.4l-9.7 0.8M343.3 630.6l-8.6 8.4M334.7 639.0l5.6 7.3M376.9 639.4l0.1 5.1M409.8 635.6l-8.4 1.8M405.7 636.5l-2.0 -5.0M419.2 630.6l5.8 2.5M458.2 644.6l-10.9 6.1M452.8 647.6l-3.2 -4.7M479.8 630.1l6.0 7.0M482.7 633.6l-6.3 6.9M488.7 622.8l10.9 2.0M499.6 624.8l6.3 -7.3M529.6 622.8l-8.8 0.5M595.4 619.7l-4.8 6.2M689.7 630.1l11.9 4.4M798.4 621.8l8.3 2.2M833.7 630.2l-2.4 8.4M850.7 632.3l-0.6 5.7M850.2 638.0l-7.4 -0.5M878.0 640.1l9.3 8.8M975.1 644.0l-5.1 5.6M972.6 646.8l2.3 6.7M353.3 648.6l1.7 10.5M355.0 659.1l-4.9 8.0M385.8 657.0l-8.2 7.2M377.6 664.1l-4.5 -5.0M382.3 653.8l8.8 1.2M391.1 654.9l3.0 -6.9M433.9 663.7l10.1 0.3M463.0 658.9l-4.6 3.9M472.7 650.6l8.9 1.1M509.2 661.6l8.8 1.9M530.6 648.3l-6.9 5.0M523.7 653.3l-5.4 -6.7M566.7 650.9l4.1 2.8M570.8 653.7l7.8 -3.4M592.3 655.1l-11.2 6.0M581.1 661.1l1.2 9.5M603.0 653.3l5.1 8.3M695.5 665.8l-5.0 5.0M690.5 670.8l-6.9 -4.4M718.8 658.5l6.1 6.4M768.2 672.4l9.2 0.3M803.9 647.8l6.3 8.0M437.9 671.9l8.1 8.1M480.0 679.9l8.7 2.1M512.8 689.1l2.9 4.8M532.9 679.1l4.6 0.6M547.5 695.1l6.2 9.4M609.7 698.4l-3.3 6.4M700.4 693.6l5.7 6.4M762.5 682.2l-4.9 2.5M816.4 699.3l-0.1 6.6M816.4 702.6l-5.9 2.2M844.0 687.5l-9.6 4.1M855.5 690.3l9.1 3.3M887.1 674.5l-6.8 9.2M908.1 693.1l2.7 8.2M543.2 709.5l-4.8 2.5M843.4 697.9l-4.8 10.8" fill="none" stroke="#000" stroke-width="3.8" stroke-linecap="round"/>
<path d="M1028.0 654.0 L430.0 513.8" fill="none" stroke="#000" stroke-width="3.8" stroke-linejoin="miter" stroke-linecap="butt"/>
<path d="M447.5 501.3 L1055.0 642.5 L1057.1 641.6 L1059.8 640.5 L1062.9 639.1 L1066.5 637.6 L1070.3 635.9 L1074.3 634.2 L1078.4 632.5 L1082.4 630.9 L1086.3 629.4 L1090.0 628.0 L1093.5 626.8 L1097.0 625.6 L1100.5 624.5 L1104.0 623.4 L1107.5 622.4 L1111.0 621.4 L1114.5 620.4 L1118.0 619.4 L1121.5 618.5 L1125.0 617.5 L1128.5 616.5 L1131.9 615.6 L1135.3 614.7 L1138.8 613.8 L1142.2 612.9 L1145.6 612.0 L1149.1 611.1 L1152.7 610.2 L1156.3 609.4 L1160.0 608.5 L1163.8 607.6 L1167.8 606.7 L1171.8 605.8 L1175.9 604.9 L1180.1 604.0 L1184.2 603.1 L1188.3 602.2 L1192.3 601.4 L1196.2 600.7 L1200.0 600.0 L1203.5 599.4 L1206.8 598.8 L1209.9 598.2 L1213.0 597.7 L1216.0 597.3 L1219.1 596.9 L1222.4 596.5 L1225.9 596.1 L1229.7 595.8 L1234.0 595.5 L1238.7 595.2 L1243.9 595.0 L1249.3 594.8 L1255.0 594.7 L1260.9 594.6 L1266.8 594.5 L1272.8 594.5 L1278.7 594.4 L1284.5 594.5 L1290.0 594.5 L1295.3 594.6 L1300.4 594.7 L1305.4 594.8 L1310.4 595.0 L1315.3 595.2 L1320.3 595.4 L1325.4 595.7 L1330.7 596.0 L1336.2 596.3 L1342.0 596.7 L1348.2 597.1 L1354.7 597.7 L1361.5 598.2 L1368.5 598.8 L1375.6 599.5 L1382.6 600.1 L1389.6 600.7 L1396.4 601.4 L1402.9 602.0 L1409.0 602.5 L1414.8 603.0 L1420.3 603.5 L1425.5 604.0 L1430.6 604.5 L1435.6 604.9 L1440.5 605.4 L1445.4 605.8 L1450.2 606.2 L1455.1 606.6 L1460.0 607.0 L1465.0 607.4 L1470.1 607.7 L1475.1 608.1 L1480.1 608.5 L1485.1 608.8 L1490.1 609.1 L1495.0 609.4 L1499.7 609.6 L1504.4 609.8 L1509.0 610.0 L1513.5 610.1 L1517.8 610.2 L1522.1 610.3 L1526.3 610.3 L1530.4 610.3 L1534.5 610.3 L1538.5 610.3 L1542.4 610.2 L1546.2 610.1 L1550.0 610.0 L1553.7 609.9 L1557.2 609.7 L1560.7 609.6 L1564.1 609.4 L1567.4 609.1 L1570.7 608.9 L1573.9 608.6 L1577.2 608.3 L1580.6 607.9 L1584.0 607.5 L1587.6 607.0 L1591.5 606.4 L1595.5 605.7 L1599.6 605.0 L1603.6 604.2 L1607.5 603.5 L1611.0 602.8 L1614.2 602.2 L1616.9 601.7 L1619.0 601.3 L1618.7 603.3 L635.0 385.5 L575.0 400.0 L540.0 420.0 L500.0 455.0Z" fill="#fff" stroke="none"/>
<path d="M1055.0 642.5 L1057.1 641.6 L1059.8 640.5 L1062.9 639.1 L1066.5 637.6 L1070.3 635.9 L1074.3 634.2 L1078.4 632.5 L1082.4 630.9 L1086.3 629.4 L1090.0 628.0 L1093.5 626.8 L1097.0 625.6 L1100.5 624.5 L1104.0 623.4 L1107.5 622.4 L1111.0 621.4 L1114.5 620.4 L1118.0 619.4 L1121.5 618.5 L1125.0 617.5 L1128.5 616.5 L1131.9 615.6 L1135.3 614.7 L1138.8 613.8 L1142.2 612.9 L1145.6 612.0 L1149.1 611.1 L1152.7 610.2 L1156.3 609.4 L1160.0 608.5 L1163.8 607.6 L1167.8 606.7 L1171.8 605.8 L1175.9 604.9 L1180.1 604.0 L1184.2 603.1 L1188.3 602.2 L1192.3 601.4 L1196.2 600.7 L1200.0 600.0 L1203.5 599.4 L1206.8 598.8 L1209.9 598.2 L1213.0 597.7 L1216.0 597.3 L1219.1 596.9 L1222.4 596.5 L1225.9 596.1 L1229.7 595.8 L1234.0 595.5 L1238.7 595.2 L1243.9 595.0 L1249.3 594.8 L1255.0 594.7 L1260.9 594.6 L1266.8 594.5 L1272.8 594.5 L1278.7 594.4 L1284.5 594.5 L1290.0 594.5 L1295.3 594.6 L1300.4 594.7 L1305.4 594.8 L1310.4 595.0 L1315.3 595.2 L1320.3 595.4 L1325.4 595.7 L1330.7 596.0 L1336.2 596.3 L1342.0 596.7 L1348.2 597.1 L1354.7 597.7 L1361.5 598.2 L1368.5 598.8 L1375.6 599.5 L1382.6 600.1 L1389.6 600.7 L1396.4 601.4 L1402.9 602.0 L1409.0 602.5 L1414.8 603.0 L1420.3 603.5 L1425.5 604.0 L1430.6 604.5 L1435.6 604.9 L1440.5 605.4 L1445.4 605.8 L1450.2 606.2 L1455.1 606.6 L1460.0 607.0 L1465.0 607.4 L1470.1 607.7 L1475.1 608.1 L1480.1 608.5 L1485.1 608.8 L1490.1 609.1 L1495.0 609.4 L1499.7 609.6 L1504.4 609.8 L1509.0 610.0 L1513.5 610.1 L1517.8 610.2 L1522.1 610.3 L1526.3 610.3 L1530.4 610.3 L1534.5 610.3 L1538.5 610.3 L1542.4 610.2 L1546.2 610.1 L1550.0 610.0 L1553.7 609.9 L1557.2 609.7 L1560.7 609.6 L1564.1 609.4 L1567.4 609.1 L1570.7 608.9 L1573.9 608.6 L1577.2 608.3 L1580.6 607.9 L1584.0 607.5 L1587.6 607.0 L1591.5 606.4 L1595.5 605.7 L1599.6 605.0 L1603.6 604.2 L1607.5 603.5 L1611.0 602.8 L1614.2 602.2 L1616.9 601.7 L1619.0 601.3 L1619.0 615.0 L1616.9 615.3 L1614.2 615.7 L1611.0 616.2 L1607.5 616.8 L1603.6 617.4 L1599.6 618.0 L1595.5 618.6 L1591.5 619.1 L1587.6 619.6 L1584.0 620.0 L1580.6 620.3 L1577.2 620.6 L1573.9 620.9 L1570.7 621.1 L1567.4 621.3 L1564.1 621.5 L1560.7 621.7 L1557.2 621.8 L1553.7 621.9 L1550.0 622.0 L1546.2 622.1 L1542.4 622.1 L1538.5 622.1 L1534.5 622.1 L1530.4 622.1 L1526.3 622.0 L1522.1 621.9 L1517.8 621.8 L1513.5 621.7 L1509.0 621.5 L1504.4 621.3 L1499.7 621.1 L1495.0 620.8 L1490.1 620.6 L1485.1 620.2 L1480.1 619.9 L1475.1 619.6 L1470.1 619.2 L1465.0 618.9 L1460.0 618.5 L1455.1 618.1 L1450.2 617.7 L1445.4 617.3 L1440.5 616.9 L1435.6 616.4 L1430.6 616.0 L1425.5 615.5 L1420.3 615.0 L1414.8 614.5 L1409.0 614.0 L1402.9 613.4 L1396.4 612.8 L1389.6 612.2 L1382.6 611.5 L1375.6 610.9 L1368.5 610.2 L1361.5 609.6 L1354.7 609.0 L1348.2 608.5 L1342.0 608.0 L1336.2 607.6 L1330.7 607.2 L1325.4 606.9 L1320.3 606.6 L1315.3 606.3 L1310.4 606.1 L1305.4 605.9 L1300.4 605.7 L1295.3 605.6 L1290.0 605.5 L1284.5 605.4 L1278.7 605.4 L1272.8 605.4 L1266.8 605.5 L1260.9 605.6 L1255.0 605.7 L1249.3 605.8 L1243.9 606.0 L1238.7 606.2 L1234.0 606.5 L1229.7 606.8 L1225.9 607.1 L1222.4 607.5 L1219.1 607.9 L1216.0 608.3 L1213.0 608.7 L1209.9 609.2 L1206.8 609.8 L1203.5 610.4 L1200.0 611.0 L1196.2 611.7 L1192.3 612.4 L1188.3 613.2 L1184.2 614.1 L1180.1 615.0 L1175.9 615.9 L1171.8 616.8 L1167.8 617.7 L1163.8 618.6 L1160.0 619.5 L1156.3 620.4 L1152.7 621.2 L1149.1 622.1 L1145.6 623.0 L1142.2 623.9 L1138.8 624.8 L1135.3 625.7 L1131.9 626.6 L1128.5 627.5 L1125.0 628.5 L1121.5 629.5 L1118.0 630.4 L1114.5 631.4 L1111.0 632.4 L1107.5 633.4 L1104.0 634.5 L1100.5 635.5 L1097.0 636.6 L1093.5 637.8 L1090.0 639.0 L1086.3 640.3 L1082.4 641.8 L1078.4 643.4 L1074.3 645.1 L1070.3 646.8 L1066.5 648.4 L1062.9 649.9 L1059.8 651.2 L1057.1 652.3 L1055.0 653.2Z" fill="#fff" stroke="#000" stroke-width="3.8" stroke-linejoin="miter"/>
<path d="M447.5 501.3 L1055.0 642.5 L1055.0 653.2 L448.8 513.8Z" fill="#fff" stroke="none"/>
<path d="M447.5 501.3 L1055.0 642.5 L1055.0 653.2 L448.8 513.8" fill="none" stroke="#000" stroke-width="3.8" stroke-linejoin="miter"/>
<path clip-path="url(#c10)" d="M576.2 405.4l-4.2 3.6M634.0 382.4l1.1 7.5M635.1 389.9l-8.8 2.0M654.2 411.2l-12.9 1.5M641.3 412.7l-3.3 6.7M673.2 392.0l-7.4 3.9M665.8 395.9l2.4 7.2M691.5 410.1l7.0 2.6M731.8 406.3l-6.7 6.5M725.1 412.8l0.8 10.0M550.2 434.4l0.8 8.0M550.6 438.4l-5.2 1.4M574.0 425.8l-11.1 3.2M594.0 407.0l3.6 11.2M615.4 428.0l2.2 8.7M637.7 430.3l5.5 9.7M677.0 417.5l-4.7 8.2M674.7 421.7l-9.2 -2.8M698.6 431.9l3.4 5.5M734.4 431.1l-4.3 5.9M755.4 415.7l4.5 4.0M757.7 417.7l6.4 -2.4M812.4 428.0l4.5 9.4M838.9 435.7l6.5 4.0M496.9 459.6l-5.9 11.4M564.7 441.6l5.9 3.5M593.6 447.3l3.5 10.6M620.8 444.0l-4.5 3.5M644.4 437.5l-7.5 10.5M659.7 444.9l10.6 1.1M700.8 458.3l10.3 0.5M711.1 458.8l0.6 8.2M725.3 443.7l-0.1 12.8M758.3 440.1l-5.3 0.3M779.6 437.7l8.6 5.2M807.9 449.7l-4.1 10.1M803.8 459.8l-8.3 0.0M835.8 452.0l0.1 9.7M836.0 461.7l-7.9 -0.1M866.4 441.6l-2.9 7.3M879.8 437.1l3.2 7.2M923.5 456.7l-6.9 11.0M916.7 467.7l-7.0 1.4M945.1 455.5l-3.5 7.3M941.6 462.8l7.0 4.0M965.9 461.5l-1.8 4.7M964.1 466.2l-8.5 1.8M555.1 475.9l-9.7 4.3M550.2 478.1l-4.4 -2.7M561.4 482.6l8.3 10.0M565.5 487.6l8.7 -3.7M611.2 474.2l-9.2 5.4M615.1 475.3l11.5 2.2M662.9 479.5l-10.1 4.2M676.2 467.5l1.6 9.8M695.9 463.6l-0.8 6.0M695.1 469.6l-6.3 -0.7M733.5 466.8l2.8 10.1M760.6 473.8l4.2 8.4M762.7 477.9l6.5 2.7M779.4 477.2l6.5 9.7M785.9 486.8l5.2 0.0M820.5 482.9l2.8 4.3M842.3 473.1l-4.8 2.5M839.9 474.4l-3.3 -5.8M860.3 476.2l-6.9 2.8M899.8 478.7l0.1 10.1M926.1 469.0l6.0 11.2M944.1 469.1l0.4 6.1M944.6 475.2l6.1 5.1M963.7 481.3l3.7 5.3M967.4 486.6l-4.0 8.6M989.7 476.7l6.4 4.5M1026.2 477.1l-7.2 5.2M537.0 507.0l6.6 0.7M543.6 507.6l3.6 -4.4M579.5 509.1l4.6 6.0M588.0 518.3l11.8 2.8M626.7 494.8l-2.3 12.6M656.6 503.3l10.0 0.7M679.8 497.2l8.6 3.0M701.0 517.4l1.4 5.9M743.6 513.4l-5.6 8.4M768.9 515.0l-5.5 0.9M770.1 493.3l8.0 9.6M813.2 513.7l-2.3 10.4M850.8 510.9l-2.9 5.7M847.9 516.6l-8.0 2.1M864.8 513.6l-3.0 4.6M901.2 503.9l4.5 9.6M922.1 492.6l-6.5 7.8M941.4 507.0l-0.2 10.0M964.6 491.0l-1.3 9.1M984.9 502.7l7.3 5.2M1032.1 502.5l-7.2 3.2M1067.6 502.7l-8.5 2.7M1093.5 506.3l0.2 7.9M1117.6 502.2l3.9 4.2M1153.7 504.4l-8.5 6.4M1172.0 503.3l-7.0 6.7M1164.9 510.0l-5.9 -0.3M1186.1 510.4l0.7 6.0M619.5 528.5l-5.0 1.8M651.6 526.3l1.9 10.4M689.7 521.2l-5.1 3.4M694.1 520.7l5.0 0.2M699.0 520.9l3.8 8.6M737.3 521.8l-7.7 7.2M729.6 529.0l-0.6 8.5M756.7 524.7l6.4 4.1M772.0 540.6l2.6 8.8M824.2 523.4l-3.7 11.4M830.6 526.3l10.7 5.9M872.3 542.5l-2.3 4.9M870.0 547.4l-8.5 -0.1M891.2 526.8l4.9 9.1M896.1 535.8l-5.0 6.7M912.3 523.2l-9.9 6.8M962.3 519.6l-4.6 2.0M960.0 520.6l-5.7 -5.5M977.9 532.2l11.0 0.4M1010.0 515.4l5.7 10.7M1015.7 526.1l-3.5 4.2M1022.2 538.3l4.8 4.0M1024.6 540.3l8.8 -0.4M1060.3 520.2l-0.6 6.7M1088.6 531.0l-10.4 0.0M1103.7 527.7l8.7 5.4M1127.6 541.1l4.5 8.2M1170.2 537.1l8.8 4.2M1191.4 534.2l4.8 7.6M1228.2 538.3l-7.7 1.1M1253.8 529.2l-10.4 6.1M1271.2 539.1l-2.2 6.3M1302.9 543.6l-4.0 2.3M1339.5 540.5l-1.9 8.3M1337.5 548.8l8.0 1.8M688.5 553.8l-1.6 5.3M687.7 556.5l6.2 3.6M706.6 547.2l8.9 4.2M711.1 549.3l3.9 -6.0M742.4 556.7l-5.2 9.1M761.1 559.4l-5.6 0.9M795.6 569.8l0.3 8.7M822.7 552.5l-5.9 3.5M816.8 556.0l-7.0 -5.0M851.1 552.8l1.3 6.9M869.8 571.9l-6.3 2.0M892.1 572.4l-12.4 0.2M932.4 571.2l-0.1 5.8M954.2 548.3l-0.4 5.4M953.8 553.7l8.1 3.2M981.2 557.6l3.5 9.8M984.7 567.4l-5.7 3.7M1001.0 568.9l-1.9 9.0M1033.5 556.6l1.5 5.9M1050.4 551.2l2.0 4.3M1088.4 569.9l-10.8 6.4M1105.5 563.4l8.1 7.4M1144.4 553.4l3.4 3.2M1154.5 567.6l6.8 4.2M1181.6 547.1l8.7 5.7M1210.1 553.3l-0.8 4.6M1209.7 555.6l-6.6 3.7M1243.1 554.5l8.0 6.5M1279.0 557.1l6.1 4.2M1285.1 561.3l7.0 -2.6M1302.2 555.4l2.4 7.5M1313.9 544.1l2.9 12.4M1343.6 546.1l1.8 6.6M1367.3 550.7l6.8 5.9M1374.1 556.5l-1.7 7.5M828.0 573.3l-2.6 8.8M882.2 589.6l-11.6 2.6M904.5 586.0l-5.3 6.7M930.1 586.2l1.1 4.5M957.1 579.4l-5.5 2.8M958.0 587.5l12.4 2.2M964.2 588.6l1.2 7.9M991.7 572.0l2.5 7.4M1017.9 588.8l8.5 8.8M1026.5 597.6l5.8 -1.3M1055.3 583.3l4.5 0.6M1088.7 572.1l6.5 9.6M1102.0 594.1l-8.2 9.8M1137.3 598.9l-10.7 2.8M1126.6 601.7l-2.1 -6.6M1164.8 577.9l-6.4 2.2M1197.6 581.9l-11.4 1.5M1273.0 580.3l5.5 3.8M1290.7 580.3l4.5 0.1M1312.9 584.7l-1.2 9.7M1312.3 589.5l8.9 2.4M1359.9 581.6l9.7 5.6M1369.6 587.2l3.5 -6.3M1367.0 580.7l-2.7 8.5M1399.1 586.8l4.5 8.1M1436.8 588.1l4.8 9.5M1441.6 597.6l5.3 1.4M1455.2 580.1l-1.4 8.9M1485.2 594.4l6.3 4.1M1491.4 598.5l1.4 5.3M1499.4 599.2l7.0 0.5M1534.8 588.6l2.0 5.3M1562.6 587.7l3.6 9.5M898.7 600.2l-8.1 7.4M890.6 607.6l2.7 5.2M983.3 610.2l-7.4 6.7M993.5 607.6l-7.4 2.7M1013.5 605.0l3.3 4.1M1051.1 601.8l6.7 0.7M1088.7 620.0l10.0 1.8M1098.7 621.8l1.1 7.8M1105.0 610.0l-10.3 1.0M1094.6 611.1l0.5 5.6M1142.6 610.1l-12.7 0.2M1501.7 604.0l-1.8 8.1M1539.9 601.1l-6.1 5.4M1049.2 634.6l5.8 8.6M1055.0 643.2l-2.3 6.5" fill="none" stroke="#000" stroke-width="3.8" stroke-linecap="round"/>
<path d="M523.0 351.7 L1652.7 592.6 L1654.0 592.2 L1655.7 591.7 L1657.7 591.1 L1660.0 590.4 L1662.4 589.6 L1664.9 588.8 L1667.5 588.0 L1670.1 587.2 L1672.6 586.3 L1675.0 585.5 L1677.3 584.7 L1679.7 583.8 L1682.0 582.9 L1684.4 582.0 L1686.8 581.1 L1689.2 580.2 L1691.6 579.3 L1693.9 578.3 L1696.2 577.4 L1698.5 576.4 L1700.7 575.4 L1702.9 574.5 L1705.1 573.5 L1707.3 572.6 L1709.4 571.6 L1711.6 570.6 L1713.7 569.6 L1715.8 568.6 L1717.9 567.5 L1720.0 566.5 L1722.0 565.5 L1723.8 564.6 L1725.6 563.7 L1727.3 562.9 L1729.0 561.9 L1730.8 561.0 L1732.9 559.8 L1735.1 558.6 L1737.7 557.1 L1740.6 555.3 L1743.9 553.3 L1747.7 550.9 L1751.7 548.4 L1755.9 545.7 L1760.3 542.8 L1764.9 539.9 L1769.5 537.0 L1774.0 534.1 L1778.5 531.3 L1782.8 528.6 L1787.1 526.0 L1791.4 523.3 L1795.7 520.7 L1800.1 518.0 L1804.4 515.4 L1808.7 512.8 L1813.0 510.3 L1817.1 507.9 L1821.1 505.5 L1825.0 503.3 L1828.9 501.1 L1832.8 498.9 L1836.8 496.7 L1840.7 494.6 L1844.5 492.6 L1848.1 490.7 L1851.4 488.9 L1854.3 487.4 L1856.8 486.1 L1858.8 485.0 L776.7 266.7 L720.0 290.0 L680.0 340.0 L640.0 375.0Z" fill="#fff" stroke="none"/>
<path d="M1652.7 592.6 L1654.0 592.2 L1655.7 591.7 L1657.7 591.1 L1660.0 590.4 L1662.4 589.6 L1664.9 588.8 L1667.5 588.0 L1670.1 587.2 L1672.6 586.3 L1675.0 585.5 L1677.3 584.7 L1679.7 583.8 L1682.0 582.9 L1684.4 582.0 L1686.8 581.1 L1689.2 580.2 L1691.6 579.3 L1693.9 578.3 L1696.2 577.4 L1698.5 576.4 L1700.7 575.4 L1702.9 574.5 L1705.1 573.5 L1707.3 572.6 L1709.4 571.6 L1711.6 570.6 L1713.7 569.6 L1715.8 568.6 L1717.9 567.5 L1720.0 566.5 L1722.0 565.5 L1723.8 564.6 L1725.6 563.7 L1727.3 562.9 L1729.0 561.9 L1730.8 561.0 L1732.9 559.8 L1735.1 558.6 L1737.7 557.1 L1740.6 555.3 L1743.9 553.3 L1747.7 550.9 L1751.7 548.4 L1755.9 545.7 L1760.3 542.8 L1764.9 539.9 L1769.5 537.0 L1774.0 534.1 L1778.5 531.3 L1782.8 528.6 L1787.1 526.0 L1791.4 523.3 L1795.7 520.7 L1800.1 518.0 L1804.4 515.4 L1808.7 512.8 L1813.0 510.3 L1817.1 507.9 L1821.1 505.5 L1825.0 503.3 L1828.9 501.1 L1832.8 498.9 L1836.8 496.7 L1840.7 494.6 L1844.5 492.6 L1848.1 490.7 L1851.4 488.9 L1854.3 487.4 L1856.8 486.1 L1858.8 485.0 L1860.0 497.0 L1857.9 498.2 L1855.4 499.6 L1852.3 501.3 L1848.9 503.2 L1845.1 505.3 L1841.2 507.5 L1837.1 509.8 L1833.0 512.1 L1828.9 514.4 L1825.0 516.7 L1821.1 519.0 L1817.0 521.3 L1812.9 523.7 L1808.6 526.1 L1804.4 528.6 L1800.0 531.1 L1795.7 533.6 L1791.4 536.2 L1787.1 538.7 L1782.8 541.3 L1778.5 544.0 L1774.0 546.7 L1769.5 549.6 L1764.9 552.6 L1760.3 555.5 L1755.9 558.3 L1751.7 561.0 L1747.7 563.6 L1743.9 565.9 L1740.6 568.0 L1737.7 569.8 L1735.1 571.3 L1732.9 572.6 L1730.8 573.8 L1729.0 574.8 L1727.3 575.7 L1725.6 576.6 L1723.8 577.5 L1722.0 578.5 L1720.0 579.5 L1717.9 580.6 L1715.8 581.7 L1713.7 582.7 L1711.6 583.8 L1709.4 584.8 L1707.3 585.8 L1705.1 586.8 L1702.9 587.8 L1700.7 588.8 L1698.5 589.8 L1696.2 590.8 L1693.9 591.7 L1691.6 592.7 L1689.2 593.6 L1686.8 594.6 L1684.4 595.5 L1682.0 596.4 L1679.7 597.3 L1677.3 598.1 L1675.0 599.0 L1672.6 599.9 L1670.1 600.8 L1667.5 601.7 L1664.9 602.6 L1662.4 603.4 L1660.0 604.2 L1657.7 605.0 L1655.7 605.7 L1654.0 606.2 L1652.7 606.7Z" fill="#fff" stroke="#000" stroke-width="3.8" stroke-linejoin="miter"/>
<path d="M608.5 369.4 L1652.7 592.6 L1652.7 606.7 L1618.7 603.3 L628.0 385.5Z" fill="#fff" stroke="none"/>
<path d="M608.5 369.4 L1652.7 592.6 L1652.7 606.7 L1618.7 603.3 L628.0 385.5" fill="none" stroke="#000" stroke-width="3.8" stroke-linejoin="miter"/>
<path clip-path="url(#c11)" d="M809.0 281.3l-3.8 4.4M807.1 283.5l3.7 7.3M835.2 289.2l12.2 0.1M724.4 301.9l12.0 3.7M736.4 305.6l6.5 -3.6M759.4 309.4l6.1 0.2M795.0 309.1l-10.5 3.9M822.0 311.9l-9.0 0.9M836.9 300.0l-7.5 3.9M829.4 303.9l-5.1 -7.1M858.7 315.0l-3.4 3.1M886.0 303.5l-11.2 1.2M902.0 303.4l6.6 3.3M905.4 305.1l2.1 6.0M708.4 343.4l-11.3 4.3M739.1 337.5l-8.9 0.6M765.0 338.9l11.8 4.9M803.7 340.7l-6.6 0.9M797.1 341.6l-4.2 7.2M830.0 340.8l-4.8 6.8M825.2 347.6l3.7 8.8M866.6 320.2l-4.2 4.2M864.5 322.3l-9.7 -2.2M879.4 329.7l-1.9 8.8M912.3 325.6l-8.9 2.4M946.2 336.3l2.6 7.6M969.1 333.6l-4.9 0.8M989.5 342.2l3.0 10.1M1037.5 335.6l-7.2 5.6M1030.3 341.2l-0.4 9.9M1054.0 326.1l6.8 7.1M1068.2 330.6l4.9 2.9M1073.1 333.6l8.2 -3.2M1085.7 326.7l8.8 7.0M661.6 367.3l6.6 2.5M709.7 364.5l-7.6 4.4M722.1 364.4l11.7 0.7M728.0 364.7l0.2 7.0M749.0 354.1l-5.3 0.7M774.8 345.9l8.8 6.6M783.7 352.6l-0.2 5.7M811.6 349.9l1.3 7.8M826.6 346.3l-4.4 9.4M851.0 369.3l2.5 6.2M882.4 367.1l5.0 4.6M885.0 369.4l-1.6 6.8M902.5 368.0l5.4 5.7M949.5 362.6l-8.7 9.2M963.2 349.8l2.4 11.8M1006.7 349.8l1.8 6.8M1021.3 346.2l0.3 5.0M1051.3 372.8l4.6 0.9M1085.3 352.1l0.9 9.0M1086.2 361.2l7.8 -0.3M1111.4 350.8l2.1 11.2M1113.5 362.0l6.2 3.9M1138.5 349.9l-12.3 0.8M1132.3 350.3l0.4 8.3M1151.4 345.0l6.0 8.1M1154.5 349.1l8.2 0.1M1183.1 372.9l-12.9 1.7M1222.8 357.0l6.3 5.2M734.4 391.0l4.1 4.7M741.3 391.6l9.5 7.8M805.7 393.5l-9.1 1.8M801.2 394.4l1.0 9.9M826.6 378.7l-4.9 6.0M863.8 375.3l-1.6 6.7M876.1 378.1l5.1 8.1M881.2 386.2l8.8 0.7M927.0 380.2l-4.6 1.0M953.0 378.6l-7.1 7.3M973.6 386.3l-8.1 5.6M965.6 391.9l1.3 5.4M991.2 372.8l-1.8 5.0M990.3 375.3l5.7 7.7M1019.5 395.6l-2.7 9.0M1018.1 400.1l4.7 4.4M1057.1 397.2l10.3 5.4M1067.4 402.6l4.6 -4.0M1075.3 395.8l5.1 3.6M1096.6 384.2l-5.3 6.7M1123.3 375.4l5.6 7.6M1161.9 375.4l-11.0 5.8M1180.8 393.6l10.3 3.2M1201.3 382.9l-4.8 2.6M1196.6 385.5l0.7 5.0M1230.4 375.3l6.0 4.3M1282.4 394.7l-7.8 8.8M1290.9 374.7l3.5 5.5M1316.1 393.2l-9.8 6.6M1311.2 396.5l-4.7 -5.1M1346.7 379.5l-3.5 12.5M1378.3 386.7l-7.7 2.6M833.1 399.9l-1.3 9.8M831.7 409.7l-9.5 1.7M849.7 406.4l2.9 8.2M875.0 405.1l5.7 4.3M880.7 409.4l-0.9 6.8M924.8 414.6l3.5 10.3M955.3 400.0l-6.5 5.4M958.2 402.7l5.9 9.9M1009.2 421.2l-6.3 2.3M1002.9 423.5l0.0 9.7M1014.4 413.8l0.6 5.9M1044.5 404.1l3.3 5.2M1086.3 410.8l4.2 7.9M1090.5 418.7l-4.9 5.5M1110.5 415.7l1.6 7.1M1121.6 414.7l0.1 8.9M1121.6 419.1l9.5 1.3M1168.1 415.6l2.6 10.1M1169.4 420.7l5.6 -0.1M1181.0 405.9l-11.7 2.7M1206.6 412.1l-3.1 9.5M1248.6 415.8l-5.4 8.0M1246.0 419.8l-5.5 0.4M1255.5 421.9l5.0 8.0M1296.1 400.1l-0.8 8.7M1295.7 404.4l-6.3 5.5M1325.7 406.3l0.3 4.8M1326.0 411.1l5.1 3.6M1341.0 413.3l4.4 10.3M1371.9 414.7l1.2 6.5M1373.1 421.2l-8.0 3.8M1407.1 403.7l-12.0 3.2M1416.5 419.5l10.3 1.2M1426.8 420.7l-0.7 5.5M1491.4 420.7l-9.3 6.6M974.6 429.9l-5.3 3.6M969.3 433.5l-6.5 -3.9M1001.4 440.9l-1.5 4.8M999.9 445.8l-6.1 0.6M1023.2 430.1l-8.6 9.5M1039.9 449.2l-1.9 11.7M1077.9 439.3l-6.1 2.4M1074.9 440.5l-8.5 -4.1M1112.7 443.5l-5.5 8.5M1110.0 447.7l1.7 4.9M1140.6 436.1l-4.1 2.8M1136.5 438.9l-1.1 8.1M1150.4 434.4l-5.6 5.5M1144.8 439.9l-5.1 -1.8M1196.2 437.1l-3.2 7.4M1204.3 449.8l4.1 4.6M1208.5 454.4l7.3 -6.6M1224.1 430.2l11.6 5.6M1261.5 444.9l-6.0 4.2M1290.3 434.2l7.3 6.6M1314.4 436.9l-8.5 3.1M1338.8 450.1l-7.7 8.3M1379.8 438.6l9.5 2.7M1410.3 437.1l-4.1 3.6M1434.9 440.9l4.0 6.0M1470.9 425.0l-9.2 9.1M1461.7 434.2l-0.8 8.7M1476.9 447.3l-5.9 0.1M1471.1 447.4l-4.1 -8.7M1497.9 438.0l-2.4 4.4M1496.7 440.2l8.5 4.9M1524.0 431.2l4.3 8.4M1560.0 435.6l-4.9 3.5M1592.0 449.7l4.2 6.2M1629.6 436.9l-10.3 7.0M1072.5 463.6l-5.4 0.6M1103.7 465.1l2.1 6.5M1128.9 468.1l-11.4 2.3M1123.2 469.3l0.9 6.6M1170.1 478.1l-1.0 8.9M1200.4 465.2l-6.7 4.6M1218.6 455.5l-7.6 4.9M1233.4 459.3l8.5 1.4M1264.1 463.9l-2.6 5.1M1291.3 472.6l-1.2 6.7M1319.8 472.5l6.6 6.8M1323.1 475.8l-5.7 5.8M1351.4 467.2l7.7 8.9M1379.2 452.7l-8.8 7.0M1374.8 456.2l0.2 5.8M1404.0 455.6l-7.6 4.7M1426.6 482.0l7.1 1.3M1433.6 483.2l3.2 -8.8M1456.0 464.5l10.6 1.1M1476.9 473.3l-6.0 2.8M1470.9 476.1l1.7 7.4M1507.4 472.6l10.1 0.1M1525.1 475.2l-2.0 5.6M1523.1 480.8l3.1 6.0M1576.7 456.5l-2.0 12.8M1574.7 469.3l-8.2 1.6M1602.9 453.5l-9.5 7.9M1593.4 461.3l-6.5 -2.4M1632.0 467.3l-4.4 1.3M1627.6 468.6l-3.5 -7.0M1636.8 470.8l1.8 6.2M1678.3 470.7l5.5 1.9M1681.0 471.7l-2.6 7.5M1708.2 451.7l-0.1 9.4M1735.0 457.6l-3.7 7.9M1790.3 479.4l0.5 5.4M1790.8 484.8l8.5 3.4M1800.7 473.1l-5.3 8.3M1187.6 479.8l2.0 5.9M1214.2 496.1l-8.0 2.6M1231.6 498.7l8.5 1.2M1240.1 499.9l6.8 -6.2M1261.9 492.0l-0.7 5.8M1261.2 497.8l8.2 0.9M1286.1 502.8l-4.3 1.9M1281.8 504.6l-4.5 -8.9M1312.8 501.6l6.0 5.1M1342.7 497.4l-5.5 9.3M1368.3 500.5l6.2 2.8M1407.2 504.8l-7.8 7.6M1425.5 494.8l11.8 1.9M1440.0 481.0l2.7 6.4M1487.4 491.7l-4.8 3.8M1518.3 494.6l4.1 7.1M1537.4 497.6l-8.1 3.0M1577.6 493.7l-10.2 2.8M1581.1 480.8l9.6 7.8M1604.0 504.0l7.0 6.3M1634.4 506.1l3.9 6.1M1673.1 495.6l3.3 7.9M1676.4 503.5l6.8 -2.0M1684.0 486.7l3.0 4.8M1687.0 491.4l-2.2 6.1M1736.2 482.3l-4.5 1.6M1737.6 508.4l6.3 0.6M1782.6 484.5l3.3 6.3M1811.9 485.2l-9.2 1.4M1836.7 480.1l-0.3 8.1M1836.4 488.3l7.2 4.4M1282.5 506.9l-3.6 11.2M1339.4 521.7l-8.4 4.9M1331.0 526.6l1.7 9.3M1384.4 519.1l0.3 8.9M1403.0 525.0l-6.4 0.6M1420.7 512.8l-12.3 3.9M1408.3 516.7l2.6 8.7M1455.2 523.2l5.6 10.0M1488.4 531.6l-8.6 8.1M1500.1 511.8l-2.3 4.2M1497.8 516.0l-5.5 -2.3M1545.9 527.3l-1.4 5.9M1560.2 518.3l4.2 2.1M1579.8 522.0l7.1 2.9M1586.8 524.9l3.6 -5.5M1617.9 509.2l-4.2 5.7M1646.5 515.4l5.4 4.0M1671.7 529.8l-2.5 7.8M1670.4 533.7l6.1 2.2M1685.9 535.4l7.6 0.8M1713.5 528.8l6.7 6.4M1720.3 535.2l6.2 -5.0M1755.8 513.8l2.1 10.1M1787.8 522.8l4.5 0.9M1790.0 523.2l3.3 6.0M1414.5 541.3l4.8 0.8M1419.3 542.1l5.7 -3.8M1446.3 543.7l1.5 7.1M1471.6 539.7l5.2 7.6M1505.3 545.3l2.9 3.7M1536.1 545.0l7.9 1.6M1555.7 559.6l7.8 2.3M1581.9 550.1l-6.5 1.3M1575.5 551.4l-4.7 8.5M1617.7 534.7l6.6 5.4M1643.6 552.2l-5.2 0.3M1662.2 558.1l7.6 2.9M1695.1 539.7l-7.0 4.8M1720.8 535.0l-3.2 10.4M1717.6 545.4l-8.6 2.3M1747.1 530.6l-0.9 12.7M1632.2 565.4l-3.1 11.7M1630.7 571.2l8.7 2.7M1662.9 561.7l-10.1 4.4M1706.1 567.4l6.8 4.9" fill="none" stroke="#000" stroke-width="3.8" stroke-linecap="round"/>
<path d="M627.5 387.7 L1099.3 493.1 L1100.7 486.9 L628.5 383.3Z" fill="#000" stroke="none"/>
<path d="M1098.3 492.9 L1618.0 606.8 L1619.4 600.4 L1099.7 486.7Z" fill="#000" stroke="none"/>
<path d="M1485.0 394.5 L1881.3 474.5 L1883.3 473.8 L1885.8 473.0 L1888.8 471.9 L1892.2 470.8 L1895.8 469.6 L1899.7 468.3 L1903.6 467.0 L1907.5 465.7 L1911.3 464.6 L1915.0 463.5 L1918.6 462.5 L1922.2 461.5 L1925.8 460.6 L1929.5 459.6 L1933.2 458.7 L1937.0 457.8 L1940.7 456.9 L1944.5 456.1 L1948.2 455.3 L1952.0 454.6 L1955.8 453.9 L1959.6 453.3 L1963.4 452.7 L1967.2 452.2 L1971.0 451.7 L1974.8 451.2 L1978.6 450.7 L1982.4 450.3 L1986.2 449.9 L1990.0 449.5 L1993.7 449.1 L1997.4 448.8 L2001.1 448.6 L2004.7 448.3 L2008.4 448.1 L2012.1 447.9 L2015.7 447.7 L2019.4 447.5 L2023.2 447.2 L2027.0 447.0 L2031.0 446.7 L2035.4 446.5 L2039.9 446.2 L2044.6 445.9 L2049.1 445.6 L2053.5 445.3 L2057.5 445.1 L2061.2 444.8 L2064.2 444.6 L2066.6 444.5 L1896.0 412.5 L1850.0 408.0 L1762.0 401.0 L1700.0 398.0 L1620.0 393.0 L1560.0 385.0 L1500.0 384.0Z" fill="#fff" stroke="none"/>
<path d="M1881.3 474.5 L1883.3 473.8 L1885.8 473.0 L1888.8 471.9 L1892.2 470.8 L1895.8 469.6 L1899.7 468.3 L1903.6 467.0 L1907.5 465.7 L1911.3 464.6 L1915.0 463.5 L1918.6 462.5 L1922.2 461.5 L1925.8 460.6 L1929.5 459.6 L1933.2 458.7 L1937.0 457.8 L1940.7 456.9 L1944.5 456.1 L1948.2 455.3 L1952.0 454.6 L1955.8 453.9 L1959.6 453.3 L1963.4 452.7 L1967.2 452.2 L1971.0 451.7 L1974.8 451.2 L1978.6 450.7 L1982.4 450.3 L1986.2 449.9 L1990.0 449.5 L1993.7 449.1 L1997.4 448.8 L2001.1 448.6 L2004.7 448.3 L2008.4 448.1 L2012.1 447.9 L2015.7 447.7 L2019.4 447.5 L2023.2 447.2 L2027.0 447.0 L2031.0 446.7 L2035.4 446.5 L2039.9 446.2 L2044.6 445.9 L2049.1 445.6 L2053.5 445.3 L2057.5 445.1 L2061.2 444.8 L2064.2 444.6 L2066.6 444.5 L2066.6 454.6 L2064.2 454.7 L2061.2 454.8 L2057.5 455.0 L2053.5 455.2 L2049.1 455.4 L2044.6 455.6 L2039.9 455.8 L2035.4 456.0 L2031.0 456.3 L2027.0 456.5 L2023.1 456.8 L2019.2 457.0 L2015.2 457.3 L2011.2 457.6 L2007.3 457.9 L2003.5 458.2 L1999.8 458.5 L1996.3 458.9 L1993.0 459.2 L1990.0 459.5 L1987.2 459.8 L1984.7 460.2 L1982.4 460.5 L1980.3 460.9 L1978.2 461.2 L1976.3 461.6 L1974.5 461.9 L1972.7 462.3 L1970.9 462.6 L1969.0 463.0 L1967.2 463.3 L1965.7 463.6 L1964.2 463.9 L1962.9 464.1 L1961.5 464.4 L1960.0 464.7 L1958.4 465.0 L1956.6 465.4 L1954.5 465.9 L1952.0 466.5 L1949.1 467.2 L1945.8 468.0 L1942.3 468.9 L1938.5 469.8 L1934.5 470.8 L1930.5 471.8 L1926.5 472.8 L1922.5 473.9 L1918.7 475.0 L1915.0 476.0 L1911.3 477.1 L1907.5 478.3 L1903.6 479.6 L1899.7 480.9 L1895.8 482.1 L1892.2 483.4 L1888.8 484.5 L1885.8 485.6 L1883.3 486.4 L1881.3 487.1Z" fill="#fff" stroke="#000" stroke-width="3.8" stroke-linejoin="miter"/>
<path d="M791.7 255.0 L1881.3 474.5 L1881.3 487.1 L1858.8 484.0 L776.7 266.7Z" fill="#fff" stroke="none"/>
<path d="M791.7 255.0 L1881.3 474.5 L1881.3 487.1 L1858.8 484.0 L776.7 266.7" fill="none" stroke="#000" stroke-width="3.8" stroke-linejoin="miter"/>
<path clip-path="url(#c12)" d="M1507.1 394.0l-1.1 8.5M1506.0 402.5l-7.1 1.2M1601.2 393.2l6.3 2.1M1829.1 407.1l10.3 6.0M1839.4 413.2l-0.7 6.2M1664.7 411.6l-0.6 4.9M1664.4 414.1l9.0 1.5M1692.4 413.8l3.7 6.4M1713.7 411.9l-8.9 0.7M1751.6 426.7l4.3 10.2M1762.3 416.5l-10.7 2.1M1751.6 418.6l-2.6 7.5M1788.0 416.8l10.7 4.4M1862.0 410.2l1.8 6.5M1907.5 429.9l10.2 3.1M1940.2 432.8l-3.5 6.0M1725.8 437.0l-5.1 3.7M1770.0 445.9l-4.7 1.1M1806.1 452.8l5.0 6.5M1834.5 455.7l-8.1 3.6M1826.4 459.3l-6.1 -4.6M1850.9 454.5l7.1 3.9M1879.4 435.9l-4.5 9.4M1897.7 437.2l-5.7 7.2M1982.1 446.6l-6.8 0.8M2056.7 441.2l-6.4 4.6M2050.3 445.8l-7.0 -3.8M1855.3 467.2l6.7 1.8" fill="none" stroke="#000" stroke-width="3.8" stroke-linecap="round"/>
<path d="M2066.6 444.5 L1896.0 412.5" fill="none" stroke="#000" stroke-width="3.8" stroke-linejoin="miter" stroke-linecap="butt"/>
<path d="M776.3 268.9 L1299.4 374.8 L1300.6 369.2 L777.1 265.1Z" fill="#000" stroke="none"/>
<path d="M1298.4 374.6 L1858.2 487.0 L1859.4 481.0 L1299.6 369.0Z" fill="#000" stroke="none"/>
<path d="M1035.0 305.1 L1021.0 315.1" fill="none" stroke="#000" stroke-width="3.0" stroke-linecap="butt" stroke-linejoin="round"/>
<path d="M1195.0 337.4 L1181.0 347.4" fill="none" stroke="#000" stroke-width="3.0" stroke-linecap="butt" stroke-linejoin="round"/>
<path d="M1258.0 350.1 L1244.0 360.1" fill="none" stroke="#000" stroke-width="3.0" stroke-linecap="butt" stroke-linejoin="round"/>
<path d="M1425.0 383.9 L1411.0 393.9" fill="none" stroke="#000" stroke-width="3.0" stroke-linecap="butt" stroke-linejoin="round"/>
<path d="M1480.0 395.0 L1466.0 405.0" fill="none" stroke="#000" stroke-width="3.0" stroke-linecap="butt" stroke-linejoin="round"/>
<path d="M1505.0 400.0 L1491.0 410.0" fill="none" stroke="#000" stroke-width="3.0" stroke-linecap="butt" stroke-linejoin="round"/>
<path d="M1805.0 460.6 L1791.0 470.6" fill="none" stroke="#000" stroke-width="3.0" stroke-linecap="butt" stroke-linejoin="round"/>
<path d="M529.9 350.7 L608.0 369.3" fill="none" stroke="#000" stroke-width="3.8" stroke-dasharray="19 6.5" stroke-linecap="butt" stroke-linejoin="round"/>
<path d="M514.9 362.9 L630.0 386.0" fill="none" stroke="#000" stroke-width="3.8" stroke-dasharray="19 6.5" stroke-linecap="butt" stroke-linejoin="round"/>
<path d="M484.0 376.0 L553.3 335.7" fill="none" stroke="#000" stroke-width="3.4" stroke-linecap="butt" stroke-linejoin="round"/>
<path d="M528.0 350.4 L555.8 340.0 L550.8 331.4Z" fill="#000" stroke="none"/>
<path d="M511.2 360.2 L481.5 371.7 L486.5 380.3Z" fill="#000" stroke="none"/>
<path d="M496.2 328.2 L496.4 329.1 L496.7 330.2 L496.9 331.5 L497.3 333.0 L497.6 334.6 L498.0 336.3 L498.5 337.9 L498.9 339.5 L499.5 341.0 L500.0 342.3 L500.6 343.5 L501.2 344.7 L501.8 345.8 L502.5 347.0 L503.2 348.0 L504.0 349.1 L504.8 350.0 L505.6 351.0 L506.5 351.8 L507.4 352.6 L508.4 353.3 L509.6 354.0 L510.9 354.6 L512.2 355.1 L513.5 355.6 L514.8 356.0 L516.0 356.4 L517.1 356.8 L518.0 357.0 L518.7 357.3" fill="none" stroke="#000" stroke-width="3.7" stroke-linecap="butt" stroke-linejoin="round"/>
<path d="M1372.4 988.0 L1330.2 1026.1" fill="none" stroke="#000" stroke-width="3.8" stroke-dasharray="19 6.5" stroke-linecap="butt" stroke-linejoin="round"/>
<path d="M1406.0 996.0 L1363.9 1034.6" fill="none" stroke="#000" stroke-width="3.8" stroke-dasharray="19 6.5" stroke-linecap="butt" stroke-linejoin="round"/>
<path d="M1300.3 1017.7 L1392.0 1042.0" fill="none" stroke="#000" stroke-width="3.4" stroke-linecap="butt" stroke-linejoin="round"/>
<path d="M1331.0 1025.8 L1301.5 1013.1 L1299.1 1022.3Z" fill="#000" stroke="none"/>
<path d="M1362.0 1034.0 L1390.8 1046.6 L1393.2 1037.4Z" fill="#000" stroke="none"/>
<path d="M1342.4 1031.8 L1342.1 1032.3 L1341.6 1033.0 L1341.0 1033.8 L1340.3 1034.7 L1339.6 1035.7 L1339.0 1036.7 L1338.4 1037.8 L1338.0 1038.9 L1337.7 1039.9 L1337.7 1041.0 L1338.0 1042.1 L1338.5 1043.2 L1339.2 1044.3 L1340.1 1045.5 L1341.1 1046.7 L1342.0 1047.9 L1342.9 1049.1 L1343.6 1050.2 L1344.1 1051.3 L1344.3 1052.4 L1344.3 1053.4 L1344.1 1054.4 L1343.8 1055.4 L1343.3 1056.4 L1342.7 1057.4 L1342.1 1058.3 L1341.3 1059.2 L1340.5 1060.0 L1339.6 1060.9 L1338.7 1061.7 L1337.6 1062.5 L1336.3 1063.3 L1334.9 1064.1 L1333.3 1064.9 L1331.8 1065.6 L1330.2 1066.3 L1328.7 1066.9 L1327.4 1067.4 L1326.3 1067.9 L1325.5 1068.3" fill="none" stroke="#000" stroke-width="3.7" stroke-linecap="butt" stroke-linejoin="round"/>
<path d="M1481.5 740.0 L1725.2 1079.9 L1783.3 1163.2" fill="none" stroke="#000" stroke-width="3.8" stroke-dasharray="19 6.5" stroke-linecap="butt" stroke-linejoin="round"/>
<path d="M1519.0 742.5 L1748.6 1064.9 L1806.7 1146.3" fill="none" stroke="#000" stroke-width="3.8" stroke-dasharray="19 6.5" stroke-linecap="butt" stroke-linejoin="round"/>
<path d="M1747.7 1164.1 L1824.5 1119.2" fill="none" stroke="#000" stroke-width="3.4" stroke-linecap="butt" stroke-linejoin="round"/>
<path d="M1774.5 1148.5 L1745.2 1159.8 L1750.2 1168.4Z" fill="#000" stroke="none"/>
<path d="M1798.5 1134.4 L1827.0 1123.5 L1822.0 1114.9Z" fill="#000" stroke="none"/>
<path d="M1788.0 1144.5 L1788.7 1145.0 L1789.5 1145.6 L1790.6 1146.3 L1791.8 1147.0 L1793.0 1147.9 L1794.3 1148.8 L1795.6 1149.8 L1796.8 1150.8 L1798.0 1151.8 L1799.0 1152.9 L1799.9 1154.0 L1800.8 1155.2 L1801.7 1156.5 L1802.6 1157.9 L1803.4 1159.3 L1804.2 1160.7 L1804.9 1162.1 L1805.6 1163.4 L1806.2 1164.7 L1806.7 1166.0 L1807.1 1167.2 L1807.5 1168.5 L1807.7 1169.9 L1807.9 1171.2 L1808.1 1172.4 L1808.2 1173.6 L1808.3 1174.7 L1808.3 1175.7 L1808.4 1176.5 L1808.5 1177.2" fill="none" stroke="#000" stroke-width="3.7" stroke-linecap="butt" stroke-linejoin="round"/>
<path d="M697.0 649.5 L822.5 681.3" fill="none" stroke="#000" stroke-width="3.3" stroke-linecap="butt" stroke-linejoin="round"/>
<path d="M840.0 685.0 L860.0 690.0" fill="none" stroke="#000" stroke-width="3.3" stroke-linecap="butt" stroke-linejoin="round"/>
<path d="M876.0 693.8 L987.5 722.5" fill="none" stroke="#000" stroke-width="3.3" stroke-linecap="butt" stroke-linejoin="round"/>
<path d="M1004.0 726.0 L1024.0 731.0" fill="none" stroke="#000" stroke-width="3.3" stroke-linecap="butt" stroke-linejoin="round"/>
<path d="M1038.8 735.5 L1151.3 764.5" fill="none" stroke="#000" stroke-width="3.3" stroke-linecap="butt" stroke-linejoin="round"/>
<path d="M1203.7 776.7 L1311.5 803.8" fill="none" stroke="#000" stroke-width="3.3" stroke-linecap="butt" stroke-linejoin="round"/>
<path d="M1331.5 808.8 L1350.0 813.8" fill="none" stroke="#000" stroke-width="3.3" stroke-linecap="butt" stroke-linejoin="round"/>
<path d="M1366.5 818.8 L1480.0 848.8" fill="none" stroke="#000" stroke-width="3.3" stroke-linecap="butt" stroke-linejoin="round"/>
<path d="M1499.0 852.5 L1514.0 855.0" fill="none" stroke="#000" stroke-width="3.3" stroke-linecap="butt" stroke-linejoin="round"/>
<path d="M1529.0 858.8 L1684.0 897.5" fill="none" stroke="#000" stroke-width="3.3" stroke-linecap="butt" stroke-linejoin="round"/>
<path d="M1694.0 900.0 L1814.0 930.7" fill="none" stroke="#000" stroke-width="3.3" stroke-linecap="butt" stroke-linejoin="round"/>
<path d="M1857.3 942.3 L1984.0 975.0" fill="none" stroke="#000" stroke-width="3.3" stroke-linecap="butt" stroke-linejoin="round"/>
<path d="M1272.8 663.8 L1342.8 782.5" fill="none" stroke="#000" stroke-width="3.3" stroke-linecap="butt" stroke-linejoin="round"/>
<path d="M1351.5 797.5 L1361.5 815.0" fill="none" stroke="#000" stroke-width="3.3" stroke-linecap="butt" stroke-linejoin="round"/>
<path d="M1370.0 830.0 L1424.0 922.5" fill="none" stroke="#000" stroke-width="3.3" stroke-linecap="butt" stroke-linejoin="round"/>
<path d="M1436.0 943.0 L1445.0 958.5" fill="none" stroke="#000" stroke-width="3.3" stroke-linecap="butt" stroke-linejoin="round"/>
<path d="M1454.8 975.6 L1513.3 1075.0" fill="none" stroke="#000" stroke-width="3.3" stroke-linecap="butt" stroke-linejoin="round"/>
<path d="M1520.0 1090.0 L1530.0 1106.7" fill="none" stroke="#000" stroke-width="3.3" stroke-linecap="butt" stroke-linejoin="round"/>
<path d="M1540.0 1121.7 L1610.0 1241.7" fill="none" stroke="#000" stroke-width="3.3" stroke-linecap="butt" stroke-linejoin="round"/>
<path d="M1774.0 742.5 L1715.0 815.5" fill="none" stroke="#000" stroke-width="3.3" stroke-linecap="butt" stroke-linejoin="round"/>
<path d="M1704.7 830.5 L1692.5 845.5" fill="none" stroke="#000" stroke-width="3.3" stroke-linecap="butt" stroke-linejoin="round"/>
<path d="M1681.3 860.4 L1611.0 947.5" fill="none" stroke="#000" stroke-width="3.3" stroke-linecap="butt" stroke-linejoin="round"/>
<path d="M1601.7 963.4 L1589.5 980.3" fill="none" stroke="#000" stroke-width="3.3" stroke-linecap="butt" stroke-linejoin="round"/>
<path d="M1577.0 994.0 L1508.3 1082.7" fill="none" stroke="#000" stroke-width="3.3" stroke-linecap="butt" stroke-linejoin="round"/>
<path d="M1498.3 1098.3 L1486.0 1113.3" fill="none" stroke="#000" stroke-width="3.3" stroke-linecap="butt" stroke-linejoin="round"/>
<path d="M1475.0 1126.7 L1419.0 1200.0" fill="none" stroke="#000" stroke-width="3.3" stroke-linecap="butt" stroke-linejoin="round"/>
<path d="M1611.0 947.5 L1629.8 956.9" fill="none" stroke="#000" stroke-width="3.3" stroke-linecap="butt" stroke-linejoin="round"/>
<path d="M1524.9 860.4 L1524.0 870.0" fill="none" stroke="#000" stroke-width="3.3" stroke-linecap="butt" stroke-linejoin="round"/>
<path d="M619.8 242.1 L621.0 242.7 L622.5 243.5 L624.3 244.5 L626.4 245.6 L628.6 246.7 L630.8 247.9 L633.0 249.1 L635.1 250.3 L636.9 251.4 L638.5 252.4 L639.9 253.3 L641.2 254.2 L642.5 255.1 L643.7 256.0 L644.8 256.9 L645.8 257.7 L646.6 258.5 L647.3 259.3 L647.7 260.1 L647.9 260.8 L647.9 261.5 L647.5 262.1 L647.0 262.7 L646.3 263.2 L645.5 263.8 L644.5 264.3 L643.5 264.8 L642.4 265.3 L641.4 265.9 L640.4 266.4 L639.3 266.9 L638.1 267.5 L636.8 268.0 L635.4 268.5 L634.0 269.0 L632.6 269.6 L631.4 270.1 L630.4 270.7 L629.5 271.3 L629.0 272.0 L628.7 272.7 L628.7 273.5 L628.8 274.3 L629.0 275.1 L629.4 276.0 L629.9 276.9 L630.6 277.8 L631.3 278.7 L632.1 279.6 L632.9 280.5 L633.8 281.4 L634.9 282.3 L636.1 283.3 L637.4 284.2 L638.8 285.2 L640.2 286.1 L641.6 287.1 L643.1 288.0 L644.6 289.0 L646.0 289.9 L647.5 290.9 L649.1 291.9 L650.8 293.0 L652.6 294.1 L654.3 295.1 L656.0 296.2 L657.5 297.1 L658.9 297.9 L660.1 298.6 L661.0 299.2" fill="none" stroke="#000" stroke-width="3.7" stroke-linecap="butt" stroke-linejoin="round"/>
<path d="M661.0 299.2 L668.0 305.0" fill="none" stroke="#000" stroke-width="3.7" stroke-linecap="butt" stroke-linejoin="round"/>
<path d="M683.4 318.9 L664.0 296.0 L658.0 303.0Z" fill="#000" stroke="none"/>
<path d="M681.6 332.0 L691.0 336.7" fill="none" stroke="#000" stroke-width="3.7" stroke-linecap="butt" stroke-linejoin="round"/>
<path d="M512.1 422.8 L514.1 423.1 L516.8 423.5 L520.1 423.9 L523.7 424.4 L527.6 424.9 L531.5 425.5 L535.3 426.1 L539.0 426.8 L542.2 427.6 L544.9 428.4 L547.2 429.3 L549.2 430.2 L551.1 431.3 L552.8 432.3 L554.3 433.5 L555.6 434.6 L556.9 435.9 L558.0 437.1 L559.0 438.4 L559.9 439.7 L560.7 441.1 L561.3 442.7 L561.7 444.4 L562.0 446.1 L562.2 447.9 L562.4 449.5 L562.5 451.1 L562.5 452.5 L562.6 453.7 L562.7 454.6" fill="none" stroke="#000" stroke-width="3.7" stroke-linecap="butt" stroke-linejoin="round"/>
<path d="M345.0 549.3 L346.9 549.4 L349.3 549.4 L352.3 549.5 L355.6 549.5 L359.1 549.6 L362.6 549.7 L366.2 550.0 L369.5 550.3 L372.5 550.7 L375.0 551.3 L377.2 552.0 L379.1 552.9 L380.9 553.8 L382.6 554.8 L384.1 555.9 L385.4 557.1 L386.7 558.4 L387.9 559.7 L389.0 561.1 L390.0 562.5 L390.9 564.1 L391.7 565.9 L392.4 567.8 L393.0 569.9 L393.4 572.0 L393.8 574.0 L394.2 575.8 L394.5 577.5 L394.7 578.9 L395.0 580.0" fill="none" stroke="#000" stroke-width="3.7" stroke-linecap="butt" stroke-linejoin="round"/>
<path d="M2135.9 464.0 L2135.0 464.7 L2133.9 465.6 L2132.5 466.6 L2131.0 467.8 L2129.3 469.1 L2127.6 470.4 L2125.9 471.6 L2124.1 472.7 L2122.5 473.6 L2120.9 474.3 L2119.4 474.8 L2117.9 475.2 L2116.5 475.5 L2115.0 475.6 L2113.5 475.7 L2112.0 475.8 L2110.5 475.7 L2109.0 475.6 L2107.5 475.4 L2105.9 475.2 L2104.3 474.9 L2102.6 474.3 L2100.9 473.7 L2099.2 473.0 L2097.5 472.2 L2095.7 471.5 L2094.0 470.8 L2092.3 470.2 L2090.6 469.8 L2089.0 469.6 L2087.4 469.5 L2085.9 469.6 L2084.5 469.7 L2083.0 469.9 L2081.6 470.2 L2080.2 470.6 L2078.7 471.1 L2077.2 471.7 L2075.6 472.5 L2074.0 473.3 L2072.2 474.4 L2070.2 475.7 L2068.1 477.2 L2065.9 478.9 L2063.8 480.6 L2061.7 482.3 L2059.7 483.9 L2058.0 485.3 L2056.5 486.5 L2055.4 487.4" fill="none" stroke="#000" stroke-width="3.7" stroke-linecap="butt" stroke-linejoin="round"/>
<path d="M2055.4 487.4 L2040.0 496.0" fill="none" stroke="#000" stroke-width="3.7" stroke-linecap="butt" stroke-linejoin="round"/>
<path d="M2018.8 508.0 L2046.3 496.6 L2041.7 489.0Z" fill="#000" stroke="none"/>
<path d="M2124.6 645.6 L2123.2 646.0 L2121.5 646.5 L2119.4 647.1 L2117.1 647.8 L2114.6 648.6 L2112.0 649.3 L2109.3 649.9 L2106.7 650.5 L2104.3 650.8 L2102.0 651.0 L2099.9 651.0 L2097.7 651.0 L2095.6 650.8 L2093.5 650.6 L2091.4 650.3 L2089.4 649.8 L2087.4 649.2 L2085.4 648.5 L2083.5 647.6 L2081.6 646.5 L2079.8 645.2 L2077.9 643.8 L2076.2 642.1 L2074.4 640.3 L2072.7 638.4 L2071.0 636.4 L2069.4 634.3 L2067.8 632.1 L2066.2 630.0 L2064.7 627.8 L2063.2 625.6 L2061.8 623.2 L2060.5 620.7 L2059.2 618.1 L2057.9 615.5 L2056.7 613.0 L2055.4 610.4 L2054.2 608.0 L2052.9 605.7 L2051.6 603.5 L2050.3 601.5 L2049.0 599.4 L2047.7 597.5 L2046.5 595.6 L2045.2 593.8 L2043.9 592.1 L2042.6 590.5 L2041.2 589.1 L2039.9 587.8 L2038.5 586.6 L2037.1 585.6 L2035.7 584.8 L2034.3 584.0 L2032.8 583.4 L2031.3 583.0 L2029.9 582.6 L2028.3 582.3 L2026.8 582.2 L2025.2 582.0 L2023.5 582.0 L2021.7 582.1 L2019.7 582.4 L2017.6 582.8 L2015.4 583.3 L2013.2 583.9 L2011.1 584.5 L2009.2 585.0 L2007.4 585.6 L2005.9 586.0 L2004.8 586.3" fill="none" stroke="#000" stroke-width="3.7" stroke-linecap="butt" stroke-linejoin="round"/>
<path d="M1993.0 797.0 L1991.1 797.3 L1988.7 797.7 L1985.9 798.1 L1982.7 798.6 L1979.2 799.2 L1975.7 799.7 L1972.1 800.2 L1968.6 800.6 L1965.2 800.9 L1962.2 801.0 L1959.4 801.0 L1956.7 801.1 L1954.0 801.0 L1951.4 800.9 L1948.8 800.7 L1946.3 800.5 L1943.7 800.1 L1941.2 799.6 L1938.6 799.0 L1936.0 798.2 L1933.4 797.3 L1930.8 796.3 L1928.3 795.1 L1925.8 793.9 L1923.2 792.5 L1920.6 791.1 L1918.0 789.5 L1915.3 787.8 L1912.6 786.1 L1909.7 784.2 L1906.7 782.2 L1903.6 780.0 L1900.4 777.7 L1897.2 775.3 L1893.9 772.8 L1890.6 770.3 L1887.3 767.7 L1884.1 765.1 L1881.0 762.5 L1877.9 759.9 L1874.9 757.4 L1872.0 754.8 L1869.2 752.2 L1866.4 749.6 L1863.6 747.0 L1860.9 744.3 L1858.1 741.7 L1855.4 739.0 L1852.6 736.3 L1849.8 733.6 L1846.9 730.8 L1844.0 727.9 L1841.0 724.9 L1838.0 721.9 L1835.0 718.9 L1832.1 715.9 L1829.3 713.1 L1826.6 710.4 L1824.1 707.8 L1821.7 705.5 L1819.6 703.4 L1817.7 701.4 L1815.9 699.6 L1814.3 697.9 L1812.8 696.3 L1811.4 694.8 L1809.9 693.4 L1808.3 692.0 L1806.7 690.8 L1804.9 689.6 L1803.0 688.5 L1801.1 687.5 L1799.1 686.6 L1797.0 685.8 L1795.0 685.1 L1792.9 684.4 L1790.7 683.8 L1788.6 683.2 L1786.5 682.7 L1784.3 682.1 L1782.1 681.6 L1779.9 681.0 L1777.6 680.5 L1775.3 680.1 L1772.9 679.7 L1770.6 679.3 L1768.3 679.0 L1766.1 678.7 L1763.9 678.5 L1761.8 678.4 L1759.8 678.3 L1757.8 678.3 L1756.0 678.4 L1754.1 678.5 L1752.3 678.7 L1750.5 678.9 L1748.7 679.2 L1746.9 679.5 L1745.0 679.9 L1743.0 680.3 L1740.9 680.8 L1738.5 681.4 L1736.1 682.1 L1733.6 682.9 L1731.1 683.7 L1728.7 684.4 L1726.5 685.2 L1724.5 685.8 L1722.8 686.4 L1721.5 686.8" fill="none" stroke="#000" stroke-width="3.7" stroke-linecap="butt" stroke-linejoin="round"/>
<path d="M1916.2 1078.9 L1914.8 1078.5 L1913.0 1078.0 L1910.9 1077.5 L1908.5 1076.8 L1905.9 1076.1 L1903.2 1075.4 L1900.5 1074.6 L1897.8 1073.9 L1895.2 1073.1 L1892.8 1072.4 L1890.4 1071.7 L1888.0 1071.0 L1885.5 1070.3 L1883.0 1069.7 L1880.6 1069.0 L1878.2 1068.2 L1875.9 1067.5 L1873.8 1066.7 L1871.9 1065.8 L1870.3 1064.9 L1868.9 1063.9 L1867.6 1062.9 L1866.5 1061.8 L1865.5 1060.7 L1864.7 1059.6 L1864.0 1058.4 L1863.5 1057.2 L1863.1 1056.0 L1862.9 1054.8 L1862.8 1053.6 L1863.0 1052.4 L1863.4 1051.1 L1864.1 1049.7 L1864.9 1048.4 L1865.9 1047.0 L1866.9 1045.7 L1867.9 1044.3 L1868.9 1043.0 L1869.7 1041.7 L1870.3 1040.5 L1870.8 1039.3 L1871.4 1038.0 L1872.0 1036.8 L1872.5 1035.6 L1872.9 1034.4 L1873.3 1033.3 L1873.5 1032.2 L1873.6 1031.2 L1873.4 1030.2 L1873.1 1029.3 L1872.6 1028.5 L1872.0 1027.8 L1871.2 1027.2 L1870.4 1026.6 L1869.3 1026.1 L1868.1 1025.6 L1866.7 1025.1 L1865.0 1024.7 L1863.2 1024.2 L1861.0 1023.7 L1858.4 1023.2 L1855.1 1022.6 L1851.4 1022.1 L1847.5 1021.5 L1843.4 1021.0 L1839.4 1020.5 L1835.6 1020.0 L1832.2 1019.6 L1829.4 1019.3 L1827.3 1019.0" fill="none" stroke="#000" stroke-width="3.7" stroke-linecap="butt" stroke-linejoin="round"/>
<path d="M1827.3 1019.0 L1820.0 1017.0" fill="none" stroke="#000" stroke-width="3.7" stroke-linecap="butt" stroke-linejoin="round"/>
<path d="M1798.2 1009.1 L1825.9 1023.0 L1828.7 1014.2Z" fill="#000" stroke="none"/>
<path d="M1636.4 1085.1 L1635.7 1083.7 L1634.8 1081.8 L1633.7 1079.7 L1632.5 1077.2 L1631.2 1074.6 L1629.9 1071.8 L1628.6 1069.1 L1627.3 1066.5 L1626.2 1064.0 L1625.2 1061.7 L1624.3 1059.6 L1623.4 1057.6 L1622.5 1055.6 L1621.7 1053.7 L1620.9 1051.8 L1620.2 1050.0 L1619.6 1048.2 L1619.1 1046.4 L1618.8 1044.7 L1618.6 1043.0 L1618.6 1041.3 L1618.7 1039.7 L1618.9 1038.2 L1619.3 1036.6 L1619.7 1035.2 L1620.3 1033.7 L1620.9 1032.2 L1621.6 1030.8 L1622.4 1029.4 L1623.3 1028.0 L1624.3 1026.6 L1625.4 1025.3 L1626.6 1023.9 L1628.0 1022.6 L1629.4 1021.3 L1630.8 1020.0 L1632.3 1018.8 L1633.7 1017.5 L1635.1 1016.2 L1636.4 1014.9 L1637.7 1013.5 L1639.1 1012.1 L1640.5 1010.6 L1641.9 1009.0 L1643.3 1007.5 L1644.6 1006.1 L1645.9 1004.8 L1647.0 1003.6 L1647.9 1002.6 L1648.6 1001.8" fill="none" stroke="#000" stroke-width="3.7" stroke-linecap="butt" stroke-linejoin="round"/>
<path d="M1177.0 968.3 L1177.1 966.9 L1177.2 965.1 L1177.4 962.9 L1177.5 960.5 L1177.7 957.9 L1177.9 955.2 L1178.1 952.5 L1178.4 949.8 L1178.7 947.3 L1179.0 945.0 L1179.3 942.8 L1179.6 940.7 L1179.9 938.6 L1180.3 936.5 L1180.6 934.5 L1181.1 932.5 L1181.6 930.5 L1182.2 928.6 L1183.0 926.8 L1184.0 925.0 L1185.1 923.3 L1186.3 921.5 L1187.7 919.8 L1189.2 918.2 L1190.7 916.6 L1192.4 915.1 L1194.2 913.7 L1196.0 912.3 L1198.0 911.1 L1200.0 910.0 L1202.3 909.0 L1204.9 908.1 L1207.7 907.3 L1210.7 906.7 L1213.7 906.1 L1216.6 905.5 L1219.3 905.1 L1221.7 904.7 L1223.8 904.3 L1225.3 904.0" fill="none" stroke="#000" stroke-width="3.7" stroke-linecap="butt" stroke-linejoin="round"/>
<text transform="translate(572.5 235.8) scale(0.790 1)" font-size="58.2" x="-2.3" y="0" stroke="#000" stroke-width="1.3" stroke-linejoin="round">30</text>
<text transform="translate(470.5 324.8) scale(0.807 1)" font-size="58.0" x="-2.3" y="0" stroke="#000" stroke-width="1.3" stroke-linejoin="round">e3</text>
<text transform="translate(429.5 444.7) scale(0.813 1)" font-size="56.9" x="-2.3" y="0" stroke="#000" stroke-width="1.3" stroke-linejoin="round">302</text>
<text transform="translate(266.8 564.4) scale(0.776 1)" font-size="56.8" x="-2.3" y="0" stroke="#000" stroke-width="1.3" stroke-linejoin="round">301</text>
<text transform="translate(2130.8 454.0) scale(0.825 1)" font-size="56.8" x="-2.3" y="0" stroke="#000" stroke-width="1.3" stroke-linejoin="round">20</text>
<text transform="translate(2125.5 663.6) scale(0.750 1)" font-size="58.0" x="-2.3" y="0" stroke="#000" stroke-width="1.3" stroke-linejoin="round">201</text>
<text transform="translate(2002.9 814.6) scale(0.824 1)" font-size="57.0" x="-2.3" y="0" stroke="#000" stroke-width="1.3" stroke-linejoin="round">202</text>
<text transform="translate(1931.7 1099.8) scale(0.760 1)" font-size="58.0" x="-2.3" y="0" stroke="#000" stroke-width="1.3" stroke-linejoin="round">10</text>
<text transform="translate(1603.8 1130.6) scale(0.775 1)" font-size="55.5" x="-2.2" y="0" stroke="#000" stroke-width="1.3" stroke-linejoin="round">101</text>
<text transform="translate(1136.5 1021.4) scale(0.797 1)" font-size="56.5" x="-2.3" y="0" stroke="#000" stroke-width="1.3" stroke-linejoin="round">102</text>
<text transform="translate(1272.7 1092.9) scale(0.712 1)" font-size="58.2" x="-2.3" y="0" stroke="#000" stroke-width="1.3" stroke-linejoin="round">e1</text>
<text transform="translate(1793.1 1217.8) scale(0.823 1)" font-size="58.0" x="-2.3" y="0" stroke="#000" stroke-width="1.3" stroke-linejoin="round">e2</text>
</svg>
</body></html>
